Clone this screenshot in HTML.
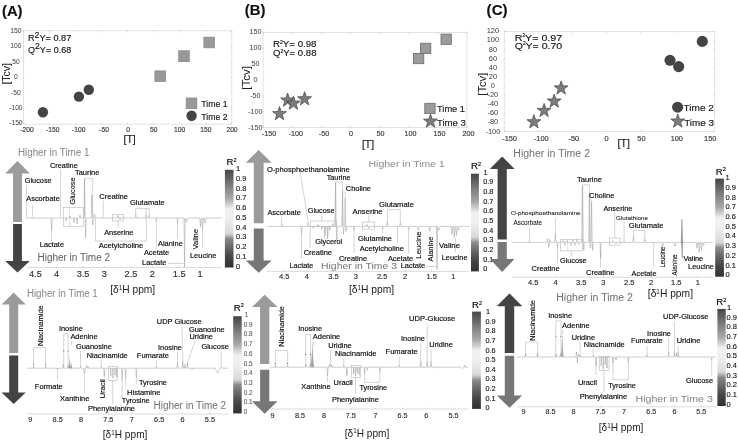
<!DOCTYPE html><html><head><meta charset="utf-8"><title>Figure</title>
<style>html,body{margin:0;padding:0;background:#fff;}svg{display:block;font-family:"Liberation Sans", sans-serif;filter:blur(0.35px);}</style></head><body>
<svg width="738" height="441" viewBox="0 0 738 441">
<defs><linearGradient id="cb" x1="0" y1="0" x2="0" y2="1"><stop offset="0" stop-color="#464646"/><stop offset="0.1" stop-color="#686868"/><stop offset="0.19" stop-color="#888"/><stop offset="0.29" stop-color="#a8a8a8"/><stop offset="0.355" stop-color="#d2d2d2"/><stop offset="0.40" stop-color="#f0f0f0"/><stop offset="0.49" stop-color="#f0f0f0"/><stop offset="0.58" stop-color="#e4e4e4"/><stop offset="0.65" stop-color="#d8d8d8"/><stop offset="0.68" stop-color="#b0b0b0"/><stop offset="0.705" stop-color="#8a8a8a"/><stop offset="0.785" stop-color="#6a6a6a"/><stop offset="0.88" stop-color="#484848"/><stop offset="1" stop-color="#303030"/></linearGradient></defs>
<rect width="738" height="441" fill="#fff"/>
<rect x="23.4" y="30.8" width="208.4" height="93.3" fill="none" stroke="#d8d8d8" stroke-width="0.7"/>
<text x="27.0" y="132.2" font-size="6.7" fill="#3a3a3a" stroke="#3a3a3a" stroke-width="0.16" font-weight="normal" text-anchor="middle">-200</text>
<line x1="23.0" y1="124.1" x2="23.0" y2="122.6" stroke="#bbb" stroke-width="0.5"/>
<line x1="23.0" y1="30.8" x2="23.0" y2="32.3" stroke="#bbb" stroke-width="0.5"/>
<text x="52.7" y="132.2" font-size="6.7" fill="#3a3a3a" stroke="#3a3a3a" stroke-width="0.16" font-weight="normal" text-anchor="middle">-150</text>
<line x1="49.1" y1="124.1" x2="49.1" y2="122.6" stroke="#bbb" stroke-width="0.5"/>
<line x1="49.1" y1="30.8" x2="49.1" y2="32.3" stroke="#bbb" stroke-width="0.5"/>
<text x="78.7" y="132.2" font-size="6.7" fill="#3a3a3a" stroke="#3a3a3a" stroke-width="0.16" font-weight="normal" text-anchor="middle">-100</text>
<line x1="75.2" y1="124.1" x2="75.2" y2="122.6" stroke="#bbb" stroke-width="0.5"/>
<line x1="75.2" y1="30.8" x2="75.2" y2="32.3" stroke="#bbb" stroke-width="0.5"/>
<text x="104.1" y="132.2" font-size="6.7" fill="#3a3a3a" stroke="#3a3a3a" stroke-width="0.16" font-weight="normal" text-anchor="middle">-50</text>
<line x1="101.4" y1="124.1" x2="101.4" y2="122.6" stroke="#bbb" stroke-width="0.5"/>
<line x1="101.4" y1="30.8" x2="101.4" y2="32.3" stroke="#bbb" stroke-width="0.5"/>
<text x="128.0" y="132.2" font-size="6.7" fill="#3a3a3a" stroke="#3a3a3a" stroke-width="0.16" font-weight="normal" text-anchor="middle">0</text>
<line x1="127.5" y1="124.1" x2="127.5" y2="122.6" stroke="#bbb" stroke-width="0.5"/>
<line x1="127.5" y1="30.8" x2="127.5" y2="32.3" stroke="#bbb" stroke-width="0.5"/>
<text x="153.7" y="132.2" font-size="6.7" fill="#3a3a3a" stroke="#3a3a3a" stroke-width="0.16" font-weight="normal" text-anchor="middle">50</text>
<line x1="153.6" y1="124.1" x2="153.6" y2="122.6" stroke="#bbb" stroke-width="0.5"/>
<line x1="153.6" y1="30.8" x2="153.6" y2="32.3" stroke="#bbb" stroke-width="0.5"/>
<text x="179.6" y="132.2" font-size="6.7" fill="#3a3a3a" stroke="#3a3a3a" stroke-width="0.16" font-weight="normal" text-anchor="middle">100</text>
<line x1="179.8" y1="124.1" x2="179.8" y2="122.6" stroke="#bbb" stroke-width="0.5"/>
<line x1="179.8" y1="30.8" x2="179.8" y2="32.3" stroke="#bbb" stroke-width="0.5"/>
<text x="205.8" y="132.2" font-size="6.7" fill="#3a3a3a" stroke="#3a3a3a" stroke-width="0.16" font-weight="normal" text-anchor="middle">150</text>
<line x1="205.9" y1="124.1" x2="205.9" y2="122.6" stroke="#bbb" stroke-width="0.5"/>
<line x1="205.9" y1="30.8" x2="205.9" y2="32.3" stroke="#bbb" stroke-width="0.5"/>
<text x="232.0" y="132.2" font-size="6.7" fill="#3a3a3a" stroke="#3a3a3a" stroke-width="0.16" font-weight="normal" text-anchor="middle">200</text>
<line x1="232.0" y1="124.1" x2="232.0" y2="122.6" stroke="#bbb" stroke-width="0.5"/>
<line x1="232.0" y1="30.8" x2="232.0" y2="32.3" stroke="#bbb" stroke-width="0.5"/>
<text x="15.9" y="125.3" font-size="6.7" fill="#3a3a3a" text-anchor="middle">-150</text>
<line x1="23.4" y1="123.6" x2="24.9" y2="123.6" stroke="#bbb" stroke-width="0.5"/>
<line x1="231.8" y1="123.6" x2="230.3" y2="123.6" stroke="#bbb" stroke-width="0.5"/>
<text x="15.9" y="109.9" font-size="6.7" fill="#3a3a3a" text-anchor="middle">-100</text>
<line x1="23.4" y1="108.2" x2="24.9" y2="108.2" stroke="#bbb" stroke-width="0.5"/>
<line x1="231.8" y1="108.2" x2="230.3" y2="108.2" stroke="#bbb" stroke-width="0.5"/>
<text x="15.9" y="94.5" font-size="6.7" fill="#3a3a3a" text-anchor="middle">-50</text>
<line x1="23.4" y1="92.8" x2="24.9" y2="92.8" stroke="#bbb" stroke-width="0.5"/>
<line x1="231.8" y1="92.8" x2="230.3" y2="92.8" stroke="#bbb" stroke-width="0.5"/>
<text x="15.9" y="79.1" font-size="6.7" fill="#3a3a3a" text-anchor="middle">0</text>
<line x1="23.4" y1="77.4" x2="24.9" y2="77.4" stroke="#bbb" stroke-width="0.5"/>
<line x1="231.8" y1="77.4" x2="230.3" y2="77.4" stroke="#bbb" stroke-width="0.5"/>
<text x="15.9" y="63.7" font-size="6.7" fill="#3a3a3a" text-anchor="middle">50</text>
<line x1="23.4" y1="62.0" x2="24.9" y2="62.0" stroke="#bbb" stroke-width="0.5"/>
<line x1="231.8" y1="62.0" x2="230.3" y2="62.0" stroke="#bbb" stroke-width="0.5"/>
<text x="15.9" y="48.3" font-size="6.7" fill="#3a3a3a" text-anchor="middle">100</text>
<line x1="23.4" y1="46.6" x2="24.9" y2="46.6" stroke="#bbb" stroke-width="0.5"/>
<line x1="231.8" y1="46.6" x2="230.3" y2="46.6" stroke="#bbb" stroke-width="0.5"/>
<text x="15.9" y="32.9" font-size="6.7" fill="#3a3a3a" text-anchor="middle">150</text>
<line x1="23.4" y1="31.2" x2="24.9" y2="31.2" stroke="#bbb" stroke-width="0.5"/>
<line x1="231.8" y1="31.2" x2="230.3" y2="31.2" stroke="#bbb" stroke-width="0.5"/>
<text transform="translate(6.3,73.8) rotate(-90)" x="0" y="4.0" font-size="11" fill="#222" stroke="#222" stroke-width="0.04" text-anchor="middle" textLength="21.6" lengthAdjust="spacingAndGlyphs">[Tcv]</text>
<text x="129.6" y="142.6" font-size="10.5" fill="#222" stroke="#222" stroke-width="0.16" font-weight="normal" text-anchor="middle">[T]</text>
<text x="2.0" y="16.0" font-size="14.6" fill="#111" stroke="#111" stroke-width="0.16" font-weight="bold" textLength="20.5" lengthAdjust="spacingAndGlyphs">(A)</text>
<text x="28.0" y="41.2" font-size="9.4" fill="#151515" stroke="#151515" stroke-width="0.15" textLength="43.3" lengthAdjust="spacingAndGlyphs">R<tspan font-size="9" dy="-3.4">2</tspan><tspan dy="3.4">Y= 0.87</tspan></text>
<text x="28.0" y="52.5" font-size="9.4" fill="#151515" stroke="#151515" stroke-width="0.15" textLength="43.3" lengthAdjust="spacingAndGlyphs">Q<tspan font-size="9" dy="-3.4">2</tspan><tspan dy="3.4">Y= 0.68</tspan></text>
<rect x="154.9" y="70.9" width="10.6" height="10.6" fill="#999" stroke="#8a8a8a" stroke-width="0.8"/>
<rect x="178.7" y="50.8" width="10.6" height="10.6" fill="#999" stroke="#8a8a8a" stroke-width="0.8"/>
<rect x="203.9" y="37.2" width="10.6" height="10.6" fill="#999" stroke="#8a8a8a" stroke-width="0.8"/>
<circle cx="42.9" cy="112.2" r="5.2" fill="#444"/>
<circle cx="78.9" cy="96.6" r="5.2" fill="#444"/>
<circle cx="88.8" cy="89.8" r="5.2" fill="#444"/>
<rect x="186.2" y="98.0" width="10.6" height="10.6" fill="#999" stroke="#8a8a8a" stroke-width="0.8"/>
<text x="201.3" y="107.1" font-size="9.6" fill="#1a1a1a" stroke="#1a1a1a" stroke-width="0.16" font-weight="normal" textLength="26.3" lengthAdjust="spacingAndGlyphs">Time 1</text>
<circle cx="191.6" cy="115.7" r="5.2" fill="#444"/>
<text x="201.3" y="119.6" font-size="9.6" fill="#1a1a1a" stroke="#1a1a1a" stroke-width="0.16" font-weight="normal" textLength="26.3" lengthAdjust="spacingAndGlyphs">Time 2</text>
<rect x="263.1" y="32.6" width="203.8" height="94.8" fill="none" stroke="#d8d8d8" stroke-width="0.7"/>
<text x="269.0" y="136.1" font-size="7.2" fill="#3a3a3a" stroke="#3a3a3a" stroke-width="0.16" font-weight="normal" text-anchor="middle">-150</text>
<line x1="263.2" y1="127.4" x2="263.2" y2="125.9" stroke="#bbb" stroke-width="0.5"/>
<line x1="263.2" y1="32.6" x2="263.2" y2="34.1" stroke="#bbb" stroke-width="0.5"/>
<text x="295.9" y="136.1" font-size="7.2" fill="#3a3a3a" stroke="#3a3a3a" stroke-width="0.16" font-weight="normal" text-anchor="middle">-100</text>
<line x1="292.4" y1="127.4" x2="292.4" y2="125.9" stroke="#bbb" stroke-width="0.5"/>
<line x1="292.4" y1="32.6" x2="292.4" y2="34.1" stroke="#bbb" stroke-width="0.5"/>
<text x="324.0" y="136.1" font-size="7.2" fill="#3a3a3a" stroke="#3a3a3a" stroke-width="0.16" font-weight="normal" text-anchor="middle">-50</text>
<line x1="321.6" y1="127.4" x2="321.6" y2="125.9" stroke="#bbb" stroke-width="0.5"/>
<line x1="321.6" y1="32.6" x2="321.6" y2="34.1" stroke="#bbb" stroke-width="0.5"/>
<text x="351.0" y="136.1" font-size="7.2" fill="#3a3a3a" stroke="#3a3a3a" stroke-width="0.16" font-weight="normal" text-anchor="middle">0</text>
<line x1="350.7" y1="127.4" x2="350.7" y2="125.9" stroke="#bbb" stroke-width="0.5"/>
<line x1="350.7" y1="32.6" x2="350.7" y2="34.1" stroke="#bbb" stroke-width="0.5"/>
<text x="380.6" y="136.1" font-size="7.2" fill="#3a3a3a" stroke="#3a3a3a" stroke-width="0.16" font-weight="normal" text-anchor="middle">50</text>
<line x1="379.8" y1="127.4" x2="379.8" y2="125.9" stroke="#bbb" stroke-width="0.5"/>
<line x1="379.8" y1="32.6" x2="379.8" y2="34.1" stroke="#bbb" stroke-width="0.5"/>
<text x="410.5" y="136.1" font-size="7.2" fill="#3a3a3a" stroke="#3a3a3a" stroke-width="0.16" font-weight="normal" text-anchor="middle">100</text>
<line x1="409.0" y1="127.4" x2="409.0" y2="125.9" stroke="#bbb" stroke-width="0.5"/>
<line x1="409.0" y1="32.6" x2="409.0" y2="34.1" stroke="#bbb" stroke-width="0.5"/>
<text x="439.5" y="136.1" font-size="7.2" fill="#3a3a3a" stroke="#3a3a3a" stroke-width="0.16" font-weight="normal" text-anchor="middle">150</text>
<line x1="438.1" y1="127.4" x2="438.1" y2="125.9" stroke="#bbb" stroke-width="0.5"/>
<line x1="438.1" y1="32.6" x2="438.1" y2="34.1" stroke="#bbb" stroke-width="0.5"/>
<text x="468.4" y="136.1" font-size="7.2" fill="#3a3a3a" stroke="#3a3a3a" stroke-width="0.16" font-weight="normal" text-anchor="middle">200</text>
<line x1="467.3" y1="127.4" x2="467.3" y2="125.9" stroke="#bbb" stroke-width="0.5"/>
<line x1="467.3" y1="32.6" x2="467.3" y2="34.1" stroke="#bbb" stroke-width="0.5"/>
<text x="255.4" y="129.7" font-size="7.2" fill="#3a3a3a" text-anchor="middle">-150</text>
<line x1="263.1" y1="127.8" x2="264.6" y2="127.8" stroke="#bbb" stroke-width="0.5"/>
<line x1="466.9" y1="127.8" x2="465.4" y2="127.8" stroke="#bbb" stroke-width="0.5"/>
<text x="255.4" y="113.8" font-size="7.2" fill="#3a3a3a" text-anchor="middle">-100</text>
<line x1="263.1" y1="111.9" x2="264.6" y2="111.9" stroke="#bbb" stroke-width="0.5"/>
<line x1="466.9" y1="111.9" x2="465.4" y2="111.9" stroke="#bbb" stroke-width="0.5"/>
<text x="255.4" y="97.8" font-size="7.2" fill="#3a3a3a" text-anchor="middle">-50</text>
<line x1="263.1" y1="96.0" x2="264.6" y2="96.0" stroke="#bbb" stroke-width="0.5"/>
<line x1="466.9" y1="96.0" x2="465.4" y2="96.0" stroke="#bbb" stroke-width="0.5"/>
<text x="255.4" y="81.9" font-size="7.2" fill="#3a3a3a" text-anchor="middle">0</text>
<line x1="263.1" y1="80.0" x2="264.6" y2="80.0" stroke="#bbb" stroke-width="0.5"/>
<line x1="466.9" y1="80.0" x2="465.4" y2="80.0" stroke="#bbb" stroke-width="0.5"/>
<text x="255.4" y="65.9" font-size="7.2" fill="#3a3a3a" text-anchor="middle">50</text>
<line x1="263.1" y1="64.0" x2="264.6" y2="64.0" stroke="#bbb" stroke-width="0.5"/>
<line x1="466.9" y1="64.0" x2="465.4" y2="64.0" stroke="#bbb" stroke-width="0.5"/>
<text x="255.4" y="50.0" font-size="7.2" fill="#3a3a3a" text-anchor="middle">100</text>
<line x1="263.1" y1="48.1" x2="264.6" y2="48.1" stroke="#bbb" stroke-width="0.5"/>
<line x1="466.9" y1="48.1" x2="465.4" y2="48.1" stroke="#bbb" stroke-width="0.5"/>
<text x="255.4" y="34.0" font-size="7.2" fill="#3a3a3a" text-anchor="middle">150</text>
<line x1="263.1" y1="32.1" x2="264.6" y2="32.1" stroke="#bbb" stroke-width="0.5"/>
<line x1="466.9" y1="32.1" x2="465.4" y2="32.1" stroke="#bbb" stroke-width="0.5"/>
<text transform="translate(246.0,77.9) rotate(-90)" x="0" y="4.0" font-size="11" fill="#222" stroke="#222" stroke-width="0.04" text-anchor="middle" textLength="23.6" lengthAdjust="spacingAndGlyphs">[Tcv]</text>
<text x="368.0" y="148.3" font-size="10.5" fill="#222" stroke="#222" stroke-width="0.16" font-weight="normal" text-anchor="middle">[T]</text>
<text x="244.8" y="14.9" font-size="14.6" fill="#111" stroke="#111" stroke-width="0.16" font-weight="bold" textLength="20.7" lengthAdjust="spacingAndGlyphs">(B)</text>
<text x="273.0" y="47.1" font-size="9.5" fill="#151515" stroke="#151515" stroke-width="0.15" textLength="43.5" lengthAdjust="spacingAndGlyphs">R<tspan font-size="5" dy="-3.6">2</tspan><tspan dy="3.6">Y= 0.98</tspan></text>
<text x="273.0" y="56.3" font-size="9.5" fill="#151515" stroke="#151515" stroke-width="0.15" textLength="43.5" lengthAdjust="spacingAndGlyphs">Q<tspan font-size="5" dy="-3.6">2</tspan><tspan dy="3.6">Y= 0.88</tspan></text>
<rect x="441.0" y="34.1" width="10.3" height="10.3" fill="#9b9b9b" stroke="#6c6c6c" stroke-width="0.8"/>
<rect x="420.5" y="43.2" width="10.3" height="10.3" fill="#9b9b9b" stroke="#6c6c6c" stroke-width="0.8"/>
<rect x="413.5" y="53.4" width="10.3" height="10.3" fill="#9b9b9b" stroke="#6c6c6c" stroke-width="0.8"/>
<polygon points="279.50,106.60 281.22,111.54 286.44,111.64 282.28,114.80 283.79,119.81 279.50,116.82 275.21,119.81 276.72,114.80 272.56,111.64 277.78,111.54" fill="#7d7d7d" stroke="#444" stroke-width="0.7" stroke-linejoin="miter"/>
<polygon points="287.60,93.00 289.32,97.94 294.54,98.04 290.38,101.20 291.89,106.21 287.60,103.22 283.31,106.21 284.82,101.20 280.66,98.04 285.88,97.94" fill="#7d7d7d" stroke="#444" stroke-width="0.7" stroke-linejoin="miter"/>
<polygon points="293.40,96.10 295.12,101.04 300.34,101.14 296.18,104.30 297.69,109.31 293.40,106.32 289.11,109.31 290.62,104.30 286.46,101.14 291.68,101.04" fill="#7d7d7d" stroke="#444" stroke-width="0.7" stroke-linejoin="miter"/>
<polygon points="304.60,91.70 306.32,96.64 311.54,96.74 307.38,99.90 308.89,104.91 304.60,101.92 300.31,104.91 301.82,99.90 297.66,96.74 302.88,96.64" fill="#7d7d7d" stroke="#444" stroke-width="0.7" stroke-linejoin="miter"/>
<rect x="424.8" y="103.3" width="10.3" height="10.3" fill="#9b9b9b" stroke="#6c6c6c" stroke-width="0.8"/>
<text x="437.0" y="112.2" font-size="9.7" fill="#1a1a1a" stroke="#1a1a1a" stroke-width="0.16" font-weight="normal" textLength="28.0" lengthAdjust="spacingAndGlyphs">Time 1</text>
<polygon points="430.50,114.10 432.22,119.04 437.44,119.14 433.28,122.30 434.79,127.31 430.50,124.32 426.21,127.31 427.72,122.30 423.56,119.14 428.78,119.04" fill="#7d7d7d" stroke="#444" stroke-width="0.7" stroke-linejoin="miter"/>
<text x="437.0" y="125.6" font-size="9.7" fill="#1a1a1a" stroke="#1a1a1a" stroke-width="0.16" font-weight="normal" textLength="28.9" lengthAdjust="spacingAndGlyphs">Time 3</text>
<rect x="504.2" y="31.6" width="210.5" height="99.8" fill="none" stroke="#d8d8d8" stroke-width="0.7"/>
<text x="509.6" y="141.2" font-size="7.4" fill="#3a3a3a" stroke="#3a3a3a" stroke-width="0.16" font-weight="normal" text-anchor="middle">-150</text>
<line x1="504.5" y1="131.4" x2="504.5" y2="129.9" stroke="#bbb" stroke-width="0.5"/>
<line x1="504.5" y1="31.6" x2="504.5" y2="33.1" stroke="#bbb" stroke-width="0.5"/>
<text x="541.3" y="141.2" font-size="7.4" fill="#3a3a3a" stroke="#3a3a3a" stroke-width="0.16" font-weight="normal" text-anchor="middle">-100</text>
<line x1="538.5" y1="131.4" x2="538.5" y2="129.9" stroke="#bbb" stroke-width="0.5"/>
<line x1="538.5" y1="31.6" x2="538.5" y2="33.1" stroke="#bbb" stroke-width="0.5"/>
<text x="573.9" y="141.2" font-size="7.4" fill="#3a3a3a" stroke="#3a3a3a" stroke-width="0.16" font-weight="normal" text-anchor="middle">-50</text>
<line x1="572.5" y1="131.4" x2="572.5" y2="129.9" stroke="#bbb" stroke-width="0.5"/>
<line x1="572.5" y1="31.6" x2="572.5" y2="33.1" stroke="#bbb" stroke-width="0.5"/>
<text x="606.5" y="141.2" font-size="7.4" fill="#3a3a3a" stroke="#3a3a3a" stroke-width="0.16" font-weight="normal" text-anchor="middle">0</text>
<line x1="606.5" y1="131.4" x2="606.5" y2="129.9" stroke="#bbb" stroke-width="0.5"/>
<line x1="606.5" y1="31.6" x2="606.5" y2="33.1" stroke="#bbb" stroke-width="0.5"/>
<text x="641.4" y="141.2" font-size="7.4" fill="#3a3a3a" stroke="#3a3a3a" stroke-width="0.16" font-weight="normal" text-anchor="middle">50</text>
<line x1="640.5" y1="131.4" x2="640.5" y2="129.9" stroke="#bbb" stroke-width="0.5"/>
<line x1="640.5" y1="31.6" x2="640.5" y2="33.1" stroke="#bbb" stroke-width="0.5"/>
<text x="676.8" y="141.2" font-size="7.4" fill="#3a3a3a" stroke="#3a3a3a" stroke-width="0.16" font-weight="normal" text-anchor="middle">100</text>
<line x1="674.5" y1="131.4" x2="674.5" y2="129.9" stroke="#bbb" stroke-width="0.5"/>
<line x1="674.5" y1="31.6" x2="674.5" y2="33.1" stroke="#bbb" stroke-width="0.5"/>
<text x="710.2" y="141.2" font-size="7.4" fill="#3a3a3a" stroke="#3a3a3a" stroke-width="0.16" font-weight="normal" text-anchor="middle">150</text>
<line x1="708.5" y1="131.4" x2="708.5" y2="129.9" stroke="#bbb" stroke-width="0.5"/>
<line x1="708.5" y1="31.6" x2="708.5" y2="33.1" stroke="#bbb" stroke-width="0.5"/>
<text x="492.9" y="133.6" font-size="7.4" fill="#3a3a3a" text-anchor="middle">-100</text>
<line x1="504.2" y1="131.6" x2="505.7" y2="131.6" stroke="#bbb" stroke-width="0.5"/>
<line x1="714.7" y1="131.6" x2="713.2" y2="131.6" stroke="#bbb" stroke-width="0.5"/>
<text x="492.9" y="124.4" font-size="7.4" fill="#3a3a3a" text-anchor="middle">-80</text>
<line x1="504.2" y1="122.5" x2="505.7" y2="122.5" stroke="#bbb" stroke-width="0.5"/>
<line x1="714.7" y1="122.5" x2="713.2" y2="122.5" stroke="#bbb" stroke-width="0.5"/>
<text x="492.9" y="115.3" font-size="7.4" fill="#3a3a3a" text-anchor="middle">-60</text>
<line x1="504.2" y1="113.4" x2="505.7" y2="113.4" stroke="#bbb" stroke-width="0.5"/>
<line x1="714.7" y1="113.4" x2="713.2" y2="113.4" stroke="#bbb" stroke-width="0.5"/>
<text x="492.9" y="106.2" font-size="7.4" fill="#3a3a3a" text-anchor="middle">-40</text>
<line x1="504.2" y1="104.2" x2="505.7" y2="104.2" stroke="#bbb" stroke-width="0.5"/>
<line x1="714.7" y1="104.2" x2="713.2" y2="104.2" stroke="#bbb" stroke-width="0.5"/>
<text x="492.9" y="97.1" font-size="7.4" fill="#3a3a3a" text-anchor="middle">-20</text>
<line x1="504.2" y1="95.1" x2="505.7" y2="95.1" stroke="#bbb" stroke-width="0.5"/>
<line x1="714.7" y1="95.1" x2="713.2" y2="95.1" stroke="#bbb" stroke-width="0.5"/>
<text x="492.9" y="88.0" font-size="7.4" fill="#3a3a3a" text-anchor="middle">0</text>
<line x1="504.2" y1="86.0" x2="505.7" y2="86.0" stroke="#bbb" stroke-width="0.5"/>
<line x1="714.7" y1="86.0" x2="713.2" y2="86.0" stroke="#bbb" stroke-width="0.5"/>
<text x="492.9" y="78.8" font-size="7.4" fill="#3a3a3a" text-anchor="middle">20</text>
<line x1="504.2" y1="76.9" x2="505.7" y2="76.9" stroke="#bbb" stroke-width="0.5"/>
<line x1="714.7" y1="76.9" x2="713.2" y2="76.9" stroke="#bbb" stroke-width="0.5"/>
<text x="492.9" y="69.7" font-size="7.4" fill="#3a3a3a" text-anchor="middle">40</text>
<line x1="504.2" y1="67.8" x2="505.7" y2="67.8" stroke="#bbb" stroke-width="0.5"/>
<line x1="714.7" y1="67.8" x2="713.2" y2="67.8" stroke="#bbb" stroke-width="0.5"/>
<text x="492.9" y="60.6" font-size="7.4" fill="#3a3a3a" text-anchor="middle">60</text>
<line x1="504.2" y1="58.6" x2="505.7" y2="58.6" stroke="#bbb" stroke-width="0.5"/>
<line x1="714.7" y1="58.6" x2="713.2" y2="58.6" stroke="#bbb" stroke-width="0.5"/>
<text x="492.9" y="51.5" font-size="7.4" fill="#3a3a3a" text-anchor="middle">80</text>
<line x1="504.2" y1="49.5" x2="505.7" y2="49.5" stroke="#bbb" stroke-width="0.5"/>
<line x1="714.7" y1="49.5" x2="713.2" y2="49.5" stroke="#bbb" stroke-width="0.5"/>
<text x="492.9" y="42.4" font-size="7.4" fill="#3a3a3a" text-anchor="middle">100</text>
<line x1="504.2" y1="40.4" x2="505.7" y2="40.4" stroke="#bbb" stroke-width="0.5"/>
<line x1="714.7" y1="40.4" x2="713.2" y2="40.4" stroke="#bbb" stroke-width="0.5"/>
<text x="492.9" y="33.2" font-size="7.4" fill="#3a3a3a" text-anchor="middle">120</text>
<line x1="504.2" y1="31.3" x2="505.7" y2="31.3" stroke="#bbb" stroke-width="0.5"/>
<line x1="714.7" y1="31.3" x2="713.2" y2="31.3" stroke="#bbb" stroke-width="0.5"/>
<text transform="translate(481.6,84.2) rotate(-90)" x="0" y="4.0" font-size="11" fill="#222" stroke="#222" stroke-width="0.04" text-anchor="middle" textLength="23.0" lengthAdjust="spacingAndGlyphs">[Tcv]</text>
<text x="623.7" y="147.2" font-size="10.5" fill="#222" stroke="#222" stroke-width="0.16" font-weight="normal" text-anchor="middle">[T]</text>
<text x="486.6" y="14.9" font-size="14.6" fill="#111" stroke="#111" stroke-width="0.16" font-weight="bold" textLength="21.0" lengthAdjust="spacingAndGlyphs">(C)</text>
<text x="514.7" y="41.1" font-size="9.9" fill="#151515" stroke="#151515" stroke-width="0.15" textLength="47.5" lengthAdjust="spacingAndGlyphs">R<tspan font-size="4.5" dy="-3.8">2</tspan><tspan dy="3.8">Y= 0.97</tspan></text>
<text x="514.7" y="49.1" font-size="9.9" fill="#151515" stroke="#151515" stroke-width="0.15" textLength="47.5" lengthAdjust="spacingAndGlyphs">Q<tspan font-size="4.5" dy="-3.8">2</tspan><tspan dy="3.8">Y= 0.70</tspan></text>
<circle cx="702.3" cy="41.4" r="5.55" fill="#444"/>
<circle cx="670.0" cy="60.3" r="5.55" fill="#444"/>
<circle cx="678.7" cy="66.6" r="5.55" fill="#444"/>
<polygon points="561.10,80.90 562.82,85.84 568.04,85.94 563.88,89.10 565.39,94.11 561.10,91.12 556.81,94.11 558.32,89.10 554.16,85.94 559.38,85.84" fill="#7d7d7d" stroke="#444" stroke-width="0.7" stroke-linejoin="miter"/>
<polygon points="554.20,94.00 555.92,98.94 561.14,99.04 556.98,102.20 558.49,107.21 554.20,104.22 549.91,107.21 551.42,102.20 547.26,99.04 552.48,98.94" fill="#7d7d7d" stroke="#444" stroke-width="0.7" stroke-linejoin="miter"/>
<polygon points="544.10,103.40 545.82,108.34 551.04,108.44 546.88,111.60 548.39,116.61 544.10,113.62 539.81,116.61 541.32,111.60 537.16,108.44 542.38,108.34" fill="#7d7d7d" stroke="#444" stroke-width="0.7" stroke-linejoin="miter"/>
<polygon points="533.90,114.70 535.62,119.64 540.84,119.74 536.68,122.90 538.19,127.91 533.90,124.92 529.61,127.91 531.12,122.90 526.96,119.74 532.18,119.64" fill="#7d7d7d" stroke="#444" stroke-width="0.7" stroke-linejoin="miter"/>
<circle cx="677.6" cy="107.2" r="5.55" fill="#444"/>
<text x="683.6" y="110.8" font-size="9.6" fill="#1a1a1a" stroke="#1a1a1a" stroke-width="0.16" font-weight="normal" textLength="30.3" lengthAdjust="spacingAndGlyphs">Time 2</text>
<polygon points="677.80,114.00 679.52,118.94 684.74,119.04 680.58,122.20 682.09,127.21 677.80,124.22 673.51,127.21 675.02,122.20 670.86,119.04 676.08,118.94" fill="#7d7d7d" stroke="#444" stroke-width="0.7" stroke-linejoin="miter"/>
<text x="684.2" y="125.7" font-size="9.6" fill="#1a1a1a" stroke="#1a1a1a" stroke-width="0.16" font-weight="normal" textLength="29.7" lengthAdjust="spacingAndGlyphs">Time 3</text>
<polygon points="17.5,160.9 29.8,173.6 21.9,173.6 21.9,222.0 13.1,222.0 13.1,173.6 5.2,173.6" fill="#9b9b9b"/>
<polygon points="13.1,224.1 21.9,224.1 21.9,261.0 29.8,261.0 17.5,272.5 5.2,261.0 13.1,261.0" fill="#444"/>
<text x="17.9" y="156.2" font-size="10" fill="#8c8c8c" stroke="#8c8c8c" stroke-width="0.04" font-weight="normal" textLength="71.6" lengthAdjust="spacingAndGlyphs">Higher in Time 1</text>
<text x="37.5" y="260.5" font-size="10" fill="#666" stroke="#666" stroke-width="0.04" font-weight="normal" textLength="72.5" lengthAdjust="spacingAndGlyphs">Higher in Time 2</text>
<path d="M26.0,218.0 L51.0,218.0 L51.6,231.0 L52.2,218.0 L65.5,218.0 L66.0,221.0 L66.5,218.0 L69.5,218.0 L70.0,216.0 L70.5,218.0 L73.5,218.0 L74.0,223.0 L74.5,218.0 L76.5,218.0 L77.0,224.0 L77.5,218.0 L79.5,218.0 L80.0,215.0 L80.5,218.0 L84.0,218.0 L84.6,179.0 L85.2,218.0 L85.1,218.0 L85.6,238.0 L86.1,218.0 L91.2,218.0 L91.8,195.0 L92.4,218.0 L92.3,218.0 L92.8,225.0 L93.3,218.0 L93.8,218.0 L94.5,214.0 L95.2,218.0 L117.5,218.0 L118.0,215.0 L118.5,218.0 L119.5,218.0 L120.0,220.0 L120.5,218.0 L135.2,218.0 L135.8,215.0 L136.4,218.0 L145.5,218.0 L146.0,215.5 L146.5,218.0 L148.5,218.0 L149.0,215.5 L149.5,218.0 L155.8,218.0 L156.3,221.0 L156.8,218.0 L177.0,218.0 L177.5,223.0 L178.0,218.0 L184.0,218.0 L184.6,267.0 L185.2,218.0 L185.0,218.0 L186.5,222.0 L188.0,218.0 L199.8,218.0 L200.5,227.0 L201.2,218.0 L201.9,218.0 L202.6,229.0 L203.3,218.0 L204.2,218.0 L205.0,223.0 L205.8,218.0 L221.7,218.0" fill="none" stroke="#929292" stroke-width="0.45" stroke-linejoin="round"/>
<line x1="26.5" y1="185.0" x2="26.5" y2="217.0" stroke="#ababab" stroke-width="0.5"/>
<line x1="32.4" y1="205.0" x2="32.4" y2="217.0" stroke="#ababab" stroke-width="0.5"/>
<line x1="51.6" y1="231.0" x2="51.6" y2="241.0" stroke="#ababab" stroke-width="0.5"/>
<line x1="60.5" y1="169.8" x2="60.5" y2="217.0" stroke="#ababab" stroke-width="0.5"/>
<rect x="63.2" y="207.4" width="20.1" height="18.9" fill="none" stroke="#ababab" stroke-width="0.5"/>
<line x1="69.5" y1="207.4" x2="69.5" y2="226.3" stroke="#bbb" stroke-width="0.4"/>
<path d="M84.4,217 V178.6 H92.7 V217" fill="none" stroke="#ababab" stroke-width="0.5" stroke-linejoin="round"/>
<path d="M95.5,218 V241 H146.3 V218" fill="none" stroke="#ababab" stroke-width="0.5" stroke-linejoin="round"/>
<line x1="103.3" y1="200.7" x2="103.3" y2="217.5" stroke="#ababab" stroke-width="0.5"/>
<rect x="112.4" y="214.5" width="11.3" height="6.5" fill="none" stroke="#ababab" stroke-width="0.5"/>
<line x1="118.0" y1="221.0" x2="118.0" y2="228.0" stroke="#ababab" stroke-width="0.5"/>
<path d="M135.7,216 V208.6 H146.1 V216" fill="none" stroke="#ababab" stroke-width="0.5" stroke-linejoin="round"/>
<path d="M146.1,208.6 H149.3 V216" fill="none" stroke="#ababab" stroke-width="0.5" stroke-linejoin="round"/>
<line x1="177.5" y1="223.0" x2="177.5" y2="238.5" stroke="#ababab" stroke-width="0.5"/>
<line x1="156.3" y1="221.0" x2="156.3" y2="249.0" stroke="#ababab" stroke-width="0.5"/>
<line x1="168.0" y1="263.5" x2="183.5" y2="263.5" stroke="#ababab" stroke-width="0.5"/>
<line x1="202.6" y1="229.0" x2="202.6" y2="248.0" stroke="#ababab" stroke-width="0.5"/>
<text x="24.8" y="182.7" font-size="7.6" fill="#0a0a0a" stroke="#0a0a0a" stroke-width="0.16" font-weight="normal" textLength="26.8" lengthAdjust="spacingAndGlyphs">Glucose</text>
<text x="50.0" y="167.5" font-size="7.6" fill="#0a0a0a" stroke="#0a0a0a" stroke-width="0.16" font-weight="normal" textLength="27.8" lengthAdjust="spacingAndGlyphs">Creatine</text>
<text x="75.0" y="175.4" font-size="7.6" fill="#0a0a0a" stroke="#0a0a0a" stroke-width="0.16" font-weight="normal" textLength="24.3" lengthAdjust="spacingAndGlyphs">Taurine</text>
<text x="26.2" y="200.8" font-size="7.6" fill="#0a0a0a" stroke="#0a0a0a" stroke-width="0.16" font-weight="normal" textLength="33.6" lengthAdjust="spacingAndGlyphs">Ascorbate</text>
<text x="99.3" y="199.3" font-size="7.6" fill="#0a0a0a" stroke="#0a0a0a" stroke-width="0.16" font-weight="normal" textLength="28.8" lengthAdjust="spacingAndGlyphs">Creatine</text>
<text x="129.9" y="205.3" font-size="7.6" fill="#0a0a0a" stroke="#0a0a0a" stroke-width="0.16" font-weight="normal" textLength="34.8" lengthAdjust="spacingAndGlyphs">Glutamate</text>
<text x="104.2" y="234.9" font-size="7.6" fill="#0a0a0a" stroke="#0a0a0a" stroke-width="0.16" font-weight="normal" textLength="29.2" lengthAdjust="spacingAndGlyphs">Anserine</text>
<text x="98.7" y="247.9" font-size="7.6" fill="#0a0a0a" stroke="#0a0a0a" stroke-width="0.16" font-weight="normal" textLength="44.6" lengthAdjust="spacingAndGlyphs">Acetylcholine</text>
<text x="39.8" y="247.2" font-size="7.6" fill="#0a0a0a" stroke="#0a0a0a" stroke-width="0.16" font-weight="normal" textLength="24.2" lengthAdjust="spacingAndGlyphs">Lactate</text>
<text x="158.0" y="245.6" font-size="7.6" fill="#0a0a0a" stroke="#0a0a0a" stroke-width="0.16" font-weight="normal" textLength="24.8" lengthAdjust="spacingAndGlyphs">Alanine</text>
<text x="143.9" y="255.1" font-size="7.6" fill="#0a0a0a" stroke="#0a0a0a" stroke-width="0.16" font-weight="normal" textLength="25.3" lengthAdjust="spacingAndGlyphs">Acetate</text>
<text x="142.1" y="265.1" font-size="7.6" fill="#0a0a0a" stroke="#0a0a0a" stroke-width="0.16" font-weight="normal" textLength="24.2" lengthAdjust="spacingAndGlyphs">Lactate</text>
<text x="189.9" y="258.3" font-size="7.6" fill="#0a0a0a" stroke="#0a0a0a" stroke-width="0.16" font-weight="normal" textLength="26.5" lengthAdjust="spacingAndGlyphs">Leucine</text>
<text transform="translate(72.7,191.0) rotate(-90)" x="0" y="2.7" font-size="7.4" fill="#0a0a0a" stroke="#0a0a0a" stroke-width="0.1" text-anchor="middle" textLength="27.0" lengthAdjust="spacingAndGlyphs">Glucose</text>
<text transform="translate(195.7,239.2) rotate(-90)" x="0" y="2.7" font-size="7.4" fill="#0a0a0a" stroke="#0a0a0a" stroke-width="0.1" text-anchor="middle" textLength="20.5" lengthAdjust="spacingAndGlyphs">Valine</text>
<line x1="27.0" y1="267.5" x2="221.7" y2="267.5" stroke="#cfcfcf" stroke-width="0.7"/>
<line x1="35.4" y1="267.5" x2="35.4" y2="266.0" stroke="#bbb" stroke-width="0.5"/>
<text x="35.4" y="276.7" font-size="9.2" fill="#333" stroke="#333" stroke-width="0.16" font-weight="normal" text-anchor="middle">4.5</text>
<line x1="56.6" y1="267.5" x2="56.6" y2="266.0" stroke="#bbb" stroke-width="0.5"/>
<text x="56.6" y="276.7" font-size="9.2" fill="#333" stroke="#333" stroke-width="0.16" font-weight="normal" text-anchor="middle">4</text>
<line x1="83.1" y1="267.5" x2="83.1" y2="266.0" stroke="#bbb" stroke-width="0.5"/>
<text x="83.1" y="276.7" font-size="9.2" fill="#333" stroke="#333" stroke-width="0.16" font-weight="normal" text-anchor="middle">3.5</text>
<line x1="104.4" y1="267.5" x2="104.4" y2="266.0" stroke="#bbb" stroke-width="0.5"/>
<text x="104.4" y="276.7" font-size="9.2" fill="#333" stroke="#333" stroke-width="0.16" font-weight="normal" text-anchor="middle">3</text>
<line x1="131.0" y1="267.5" x2="131.0" y2="266.0" stroke="#bbb" stroke-width="0.5"/>
<text x="131.0" y="276.7" font-size="9.2" fill="#333" stroke="#333" stroke-width="0.16" font-weight="normal" text-anchor="middle">2.5</text>
<line x1="152.4" y1="267.5" x2="152.4" y2="266.0" stroke="#bbb" stroke-width="0.5"/>
<text x="152.4" y="276.7" font-size="9.2" fill="#333" stroke="#333" stroke-width="0.16" font-weight="normal" text-anchor="middle">2</text>
<line x1="179.2" y1="267.5" x2="179.2" y2="266.0" stroke="#bbb" stroke-width="0.5"/>
<text x="179.2" y="276.7" font-size="9.2" fill="#333" stroke="#333" stroke-width="0.16" font-weight="normal" text-anchor="middle">1.5</text>
<line x1="200.1" y1="267.5" x2="200.1" y2="266.0" stroke="#bbb" stroke-width="0.5"/>
<text x="200.1" y="276.7" font-size="9.2" fill="#333" stroke="#333" stroke-width="0.16" font-weight="normal" text-anchor="middle">1</text>
<text x="110.2" y="293.4" font-size="10.3" fill="#222" textLength="45.0" lengthAdjust="spacingAndGlyphs">[δ<tspan font-size="6.4" dy="-3.4">1</tspan><tspan dy="3.4">H ppm]</tspan></text>
<rect x="224.9" y="169.8" width="8.6" height="97.7" fill="url(#cb)"/>
<text x="226.6" y="165.1" font-size="9.6" fill="#111" stroke="#111" stroke-width="0.2">R<tspan font-size="5.5" dy="-3.6">2</tspan></text>
<text x="236.0" y="171.0" font-size="7.5" fill="#1c1c1c" stroke="#1c1c1c" stroke-width="0.15">1</text>
<text x="236.0" y="180.8" font-size="7.5" fill="#1c1c1c" stroke="#1c1c1c" stroke-width="0.15">0.9</text>
<text x="236.0" y="190.5" font-size="7.5" fill="#1c1c1c" stroke="#1c1c1c" stroke-width="0.15">0.8</text>
<text x="236.0" y="200.2" font-size="7.5" fill="#1c1c1c" stroke="#1c1c1c" stroke-width="0.15">0.7</text>
<text x="236.0" y="210.0" font-size="7.5" fill="#1c1c1c" stroke="#1c1c1c" stroke-width="0.15">0.6</text>
<text x="236.0" y="219.8" font-size="7.5" fill="#1c1c1c" stroke="#1c1c1c" stroke-width="0.15">0.5</text>
<text x="236.0" y="229.5" font-size="7.5" fill="#1c1c1c" stroke="#1c1c1c" stroke-width="0.15">0.4</text>
<text x="236.0" y="239.2" font-size="7.5" fill="#1c1c1c" stroke="#1c1c1c" stroke-width="0.15">0.3</text>
<text x="236.0" y="249.0" font-size="7.5" fill="#1c1c1c" stroke="#1c1c1c" stroke-width="0.15">0.2</text>
<text x="236.0" y="258.8" font-size="7.5" fill="#1c1c1c" stroke="#1c1c1c" stroke-width="0.15">0.1</text>
<text x="236.0" y="268.5" font-size="7.5" fill="#1c1c1c" stroke="#1c1c1c" stroke-width="0.15">0</text>
<polygon points="258.7,150.0 271.7,162.7 263.6,162.7 263.6,223.3 253.8,223.3 253.8,162.7 245.7,162.7" fill="#9b9b9b"/>
<polygon points="253.8,228.6 263.6,228.6 263.6,260.4 271.7,260.4 258.7,272.8 245.7,260.4 253.8,260.4" fill="#777"/>
<text x="368.5" y="166.8" font-size="8.8" fill="#929292" stroke="#929292" stroke-width="0.04" font-weight="normal" textLength="76.4" lengthAdjust="spacingAndGlyphs">Higher in Time 1</text>
<text x="321.0" y="268.9" font-size="8.8" fill="#7a7a7a" stroke="#7a7a7a" stroke-width="0.04" font-weight="normal" textLength="76.1" lengthAdjust="spacingAndGlyphs">Higher in Time 3</text>
<path d="M267.0,226.4 L281.2,226.4 L281.7,224.4 L282.2,226.4 L300.9,226.4 L301.5,233.4 L302.1,226.4 L307.6,226.4 L308.1,222.4 L308.6,226.4 L312.5,226.4 L313.0,228.4 L313.5,226.4 L317.5,226.4 L318.0,224.4 L318.5,226.4 L321.5,226.4 L322.0,229.4 L322.5,226.4 L324.4,226.4 L325.0,235.4 L325.6,226.4 L326.9,226.4 L327.5,237.4 L328.1,226.4 L329.5,226.4 L330.0,230.4 L330.5,226.4 L332.5,226.4 L333.0,223.4 L333.5,226.4 L334.9,226.4 L335.6,182.4 L336.3,226.4 L336.3,226.4 L336.8,240.4 L337.3,226.4 L341.8,226.4 L342.5,190.4 L343.2,226.4 L343.1,226.4 L343.6,234.4 L344.1,226.4 L344.6,226.4 L345.2,198.4 L345.8,226.4 L345.7,226.4 L346.2,231.4 L346.7,226.4 L353.5,226.4 L354.0,230.4 L354.5,226.4 L366.5,226.4 L367.0,224.4 L367.5,226.4 L368.5,226.4 L369.0,228.4 L369.5,226.4 L382.1,226.4 L382.6,229.4 L383.1,226.4 L386.7,226.4 L387.4,221.4 L388.1,226.4 L399.6,226.4 L400.3,222.4 L401.0,226.4 L408.1,226.4 L408.6,229.4 L409.1,226.4 L417.6,226.4 L418.4,230.4 L419.2,226.4 L429.1,226.4 L429.9,231.4 L430.7,226.4 L436.4,226.4 L437.0,269.4 L437.6,226.4 L437.3,226.4 L438.8,230.4 L440.3,226.4 L451.3,226.4 L452.0,234.4 L452.7,226.4 L453.6,226.4 L454.3,237.4 L455.0,226.4 L455.7,226.4 L456.4,235.4 L457.1,226.4 L457.8,226.4 L458.5,230.4 L459.2,226.4 L470.0,226.4" fill="none" stroke="#929292" stroke-width="0.45" stroke-linejoin="round"/>
<line x1="281.7" y1="217.0" x2="281.7" y2="225.0" stroke="#ababab" stroke-width="0.5"/>
<line x1="300.1" y1="171.5" x2="308.1" y2="221.0" stroke="#ababab" stroke-width="0.5"/>
<line x1="301.5" y1="233.0" x2="301.5" y2="258.0" stroke="#ababab" stroke-width="0.5"/>
<rect x="310.4" y="221.0" width="26.0" height="5.2" fill="none" stroke="#ababab" stroke-width="0.5"/>
<line x1="321.7" y1="214.0" x2="321.7" y2="221.0" stroke="#ababab" stroke-width="0.5"/>
<path d="M324.5,227 V238.3 H327.9 V227" fill="none" stroke="#ababab" stroke-width="0.5" stroke-linejoin="round"/>
<line x1="310.2" y1="227.0" x2="310.2" y2="248.0" stroke="#ababab" stroke-width="0.5"/>
<path d="M335.5,226 V181.8 H342.6 V226" fill="none" stroke="#ababab" stroke-width="0.5" stroke-linejoin="round"/>
<line x1="345.2" y1="192.0" x2="345.2" y2="199.0" stroke="#ababab" stroke-width="0.5"/>
<line x1="354.0" y1="230.0" x2="354.0" y2="253.0" stroke="#ababab" stroke-width="0.5"/>
<rect x="362.7" y="222.0" width="12.0" height="7.1" fill="none" stroke="#ababab" stroke-width="0.5"/>
<line x1="368.8" y1="214.5" x2="368.8" y2="222.0" stroke="#ababab" stroke-width="0.5"/>
<path d="M387.4,222 V209.6 H400.3 V222" fill="none" stroke="#ababab" stroke-width="0.5" stroke-linejoin="round"/>
<line x1="382.6" y1="229.0" x2="382.6" y2="234.0" stroke="#ababab" stroke-width="0.5"/>
<line x1="397.5" y1="227.0" x2="397.5" y2="243.0" stroke="#ababab" stroke-width="0.5"/>
<line x1="408.6" y1="229.0" x2="408.6" y2="254.0" stroke="#ababab" stroke-width="0.5"/>
<line x1="426.0" y1="266.5" x2="436.0" y2="266.5" stroke="#ababab" stroke-width="0.5"/>
<line x1="455.5" y1="238.0" x2="455.5" y2="252.0" stroke="#ababab" stroke-width="0.5"/>
<text x="266.9" y="171.6" font-size="7.6" fill="#0a0a0a" stroke="#0a0a0a" stroke-width="0.16" font-weight="normal" textLength="82.8" lengthAdjust="spacingAndGlyphs">O-phosphoethanolamine</text>
<text x="326.7" y="180.1" font-size="7.6" fill="#0a0a0a" stroke="#0a0a0a" stroke-width="0.16" font-weight="normal" textLength="23.8" lengthAdjust="spacingAndGlyphs">Taurine</text>
<text x="345.8" y="190.7" font-size="7.6" fill="#0a0a0a" stroke="#0a0a0a" stroke-width="0.16" font-weight="normal" textLength="25.2" lengthAdjust="spacingAndGlyphs">Choline</text>
<text x="267.4" y="215.3" font-size="7.6" fill="#0a0a0a" stroke="#0a0a0a" stroke-width="0.16" font-weight="normal" textLength="33.6" lengthAdjust="spacingAndGlyphs">Ascorbate</text>
<text x="307.7" y="213.1" font-size="7.6" fill="#0a0a0a" stroke="#0a0a0a" stroke-width="0.16" font-weight="normal" textLength="26.9" lengthAdjust="spacingAndGlyphs">Glucose</text>
<text x="352.5" y="213.5" font-size="7.6" fill="#0a0a0a" stroke="#0a0a0a" stroke-width="0.16" font-weight="normal" textLength="30.1" lengthAdjust="spacingAndGlyphs">Anserine</text>
<text x="379.1" y="206.6" font-size="7.6" fill="#0a0a0a" stroke="#0a0a0a" stroke-width="0.16" font-weight="normal" textLength="34.8" lengthAdjust="spacingAndGlyphs">Glutamate</text>
<text x="315.2" y="244.0" font-size="7.6" fill="#0a0a0a" stroke="#0a0a0a" stroke-width="0.16" font-weight="normal" textLength="27.0" lengthAdjust="spacingAndGlyphs">Glycerol</text>
<text x="303.7" y="254.6" font-size="7.6" fill="#0a0a0a" stroke="#0a0a0a" stroke-width="0.16" font-weight="normal" textLength="28.3" lengthAdjust="spacingAndGlyphs">Creatine</text>
<text x="339.0" y="260.8" font-size="7.6" fill="#0a0a0a" stroke="#0a0a0a" stroke-width="0.16" font-weight="normal" textLength="28.0" lengthAdjust="spacingAndGlyphs">Creatine</text>
<text x="289.5" y="267.9" font-size="7.6" fill="#0a0a0a" stroke="#0a0a0a" stroke-width="0.16" font-weight="normal" textLength="23.9" lengthAdjust="spacingAndGlyphs">Lactate</text>
<text x="357.9" y="240.7" font-size="7.6" fill="#0a0a0a" stroke="#0a0a0a" stroke-width="0.16" font-weight="normal" textLength="34.1" lengthAdjust="spacingAndGlyphs">Glutamine</text>
<text x="359.7" y="250.5" font-size="7.6" fill="#0a0a0a" stroke="#0a0a0a" stroke-width="0.16" font-weight="normal" textLength="44.3" lengthAdjust="spacingAndGlyphs">Acetylcholine</text>
<text x="387.9" y="260.8" font-size="7.6" fill="#0a0a0a" stroke="#0a0a0a" stroke-width="0.16" font-weight="normal" textLength="25.2" lengthAdjust="spacingAndGlyphs">Acetate</text>
<text x="400.7" y="268.1" font-size="7.6" fill="#0a0a0a" stroke="#0a0a0a" stroke-width="0.16" font-weight="normal" textLength="24.4" lengthAdjust="spacingAndGlyphs">Lactate</text>
<text x="439.0" y="248.1" font-size="7.6" fill="#0a0a0a" stroke="#0a0a0a" stroke-width="0.16" font-weight="normal" textLength="21.0" lengthAdjust="spacingAndGlyphs">Valine</text>
<text x="441.7" y="259.9" font-size="7.6" fill="#0a0a0a" stroke="#0a0a0a" stroke-width="0.16" font-weight="normal" textLength="25.8" lengthAdjust="spacingAndGlyphs">Leucine</text>
<text transform="translate(418.4,245.0) rotate(-90)" x="0" y="2.7" font-size="7.4" fill="#0a0a0a" stroke="#0a0a0a" stroke-width="0.1" text-anchor="middle" textLength="27.4" lengthAdjust="spacingAndGlyphs">Leucine</text>
<text transform="translate(430.2,249.0) rotate(-90)" x="0" y="2.7" font-size="7.4" fill="#0a0a0a" stroke="#0a0a0a" stroke-width="0.1" text-anchor="middle" textLength="25.0" lengthAdjust="spacingAndGlyphs">Alanine</text>
<line x1="267.0" y1="271.4" x2="469.0" y2="271.4" stroke="#cfcfcf" stroke-width="0.7"/>
<line x1="284.2" y1="271.4" x2="284.2" y2="269.9" stroke="#bbb" stroke-width="0.5"/>
<text x="284.2" y="279.4" font-size="7.5" fill="#333" stroke="#333" stroke-width="0.16" font-weight="normal" text-anchor="middle">4.5</text>
<line x1="306.9" y1="271.4" x2="306.9" y2="269.9" stroke="#bbb" stroke-width="0.5"/>
<text x="306.9" y="279.4" font-size="7.5" fill="#333" stroke="#333" stroke-width="0.16" font-weight="normal" text-anchor="middle">4</text>
<line x1="333.4" y1="271.4" x2="333.4" y2="269.9" stroke="#bbb" stroke-width="0.5"/>
<text x="333.4" y="279.4" font-size="7.5" fill="#333" stroke="#333" stroke-width="0.16" font-weight="normal" text-anchor="middle">3.5</text>
<line x1="355.8" y1="271.4" x2="355.8" y2="269.9" stroke="#bbb" stroke-width="0.5"/>
<text x="355.8" y="279.4" font-size="7.5" fill="#333" stroke="#333" stroke-width="0.16" font-weight="normal" text-anchor="middle">3</text>
<line x1="382.1" y1="271.4" x2="382.1" y2="269.9" stroke="#bbb" stroke-width="0.5"/>
<text x="382.1" y="279.4" font-size="7.5" fill="#333" stroke="#333" stroke-width="0.16" font-weight="normal" text-anchor="middle">2.5</text>
<line x1="405.1" y1="271.4" x2="405.1" y2="269.9" stroke="#bbb" stroke-width="0.5"/>
<text x="405.1" y="279.4" font-size="7.5" fill="#333" stroke="#333" stroke-width="0.16" font-weight="normal" text-anchor="middle">2</text>
<line x1="431.6" y1="271.4" x2="431.6" y2="269.9" stroke="#bbb" stroke-width="0.5"/>
<text x="431.6" y="279.4" font-size="7.5" fill="#333" stroke="#333" stroke-width="0.16" font-weight="normal" text-anchor="middle">1.5</text>
<line x1="453.4" y1="271.4" x2="453.4" y2="269.9" stroke="#bbb" stroke-width="0.5"/>
<text x="453.4" y="279.4" font-size="7.5" fill="#333" stroke="#333" stroke-width="0.16" font-weight="normal" text-anchor="middle">1</text>
<text x="348.9" y="293.4" font-size="10.3" fill="#222" textLength="45.3" lengthAdjust="spacingAndGlyphs">[δ<tspan font-size="6.4" dy="-3.4">1</tspan><tspan dy="3.4">H ppm]</tspan></text>
<rect x="471.0" y="173.7" width="7.9" height="97.7" fill="url(#cb)"/>
<text x="471.0" y="169.2" font-size="9.6" fill="#111" stroke="#111" stroke-width="0.2">R<tspan font-size="5.5" dy="-3.6">2</tspan></text>
<text x="483.6" y="174.6" font-size="7.3" fill="#1c1c1c" stroke="#1c1c1c" stroke-width="0.15">1</text>
<text x="483.2" y="184.3" font-size="7.3" fill="#1c1c1c" stroke="#1c1c1c" stroke-width="0.15">0.9</text>
<text x="483.2" y="193.9" font-size="7.3" fill="#1c1c1c" stroke="#1c1c1c" stroke-width="0.15">0.8</text>
<text x="483.2" y="203.6" font-size="7.3" fill="#1c1c1c" stroke="#1c1c1c" stroke-width="0.15">0.7</text>
<text x="483.2" y="213.2" font-size="7.3" fill="#1c1c1c" stroke="#1c1c1c" stroke-width="0.15">0.6</text>
<text x="483.2" y="222.9" font-size="7.3" fill="#1c1c1c" stroke="#1c1c1c" stroke-width="0.15">0.5</text>
<text x="483.2" y="232.5" font-size="7.3" fill="#1c1c1c" stroke="#1c1c1c" stroke-width="0.15">0.4</text>
<text x="483.2" y="242.2" font-size="7.3" fill="#1c1c1c" stroke="#1c1c1c" stroke-width="0.15">0.3</text>
<text x="483.2" y="251.8" font-size="7.3" fill="#1c1c1c" stroke="#1c1c1c" stroke-width="0.15">0.2</text>
<text x="483.2" y="261.5" font-size="7.3" fill="#1c1c1c" stroke="#1c1c1c" stroke-width="0.15">0.1</text>
<text x="483.2" y="271.1" font-size="7.3" fill="#1c1c1c" stroke="#1c1c1c" stroke-width="0.15">0</text>
<polygon points="502.2,156.5 514.6,168.9 506.8,168.9 506.8,239.4 497.6,239.4 497.6,168.9 489.8,168.9" fill="#444"/>
<polygon points="497.6,242.0 506.8,242.0 506.8,258.9 514.4,258.9 502.2,272.0 490.0,258.9 497.6,258.9" fill="#777"/>
<text x="513.3" y="157.1" font-size="10" fill="#777" stroke="#777" stroke-width="0.04" font-weight="normal" textLength="76.7" lengthAdjust="spacingAndGlyphs">Higher in Time 2</text>
<path d="M512.0,242.4 L529.0,242.4 L529.5,240.9 L530.0,242.4 L547.1,242.4 L547.6,238.4 L548.1,242.4 L548.3,242.4 L548.8,247.4 L549.3,242.4 L549.5,242.4 L550.0,239.4 L550.5,242.4 L554.7,242.4 L555.3,233.4 L555.9,242.4 L556.9,242.4 L557.5,248.4 L558.1,242.4 L562.5,242.4 L563.0,240.4 L563.5,242.4 L564.5,242.4 L565.0,245.4 L565.5,242.4 L566.5,242.4 L567.0,240.4 L567.5,242.4 L570.5,242.4 L571.0,245.4 L571.5,242.4 L572.5,242.4 L573.0,239.4 L573.5,242.4 L574.5,242.4 L575.0,245.4 L575.5,242.4 L576.5,242.4 L577.0,239.4 L577.5,242.4 L578.5,242.4 L579.0,244.4 L579.5,242.4 L581.9,242.4 L582.6,186.4 L583.3,242.4 L583.3,242.4 L583.8,250.4 L584.3,242.4 L588.7,242.4 L589.4,192.4 L590.1,242.4 L589.9,242.4 L590.4,248.4 L590.9,242.4 L591.0,242.4 L591.6,202.4 L592.2,242.4 L592.1,242.4 L592.6,250.4 L593.1,242.4 L600.1,242.4 L600.6,258.4 L601.1,242.4 L612.5,242.4 L613.0,240.9 L613.5,242.4 L615.5,242.4 L616.0,243.9 L616.5,242.4 L623.6,242.4 L624.1,240.4 L624.6,242.4 L632.5,242.4 L633.5,236.4 L634.5,242.4 L644.0,242.4 L644.8,238.9 L645.6,242.4 L653.2,242.4 L653.7,244.4 L654.2,242.4 L661.9,242.4 L662.7,246.9 L663.5,242.4 L674.1,242.4 L674.9,246.4 L675.7,242.4 L696.3,242.4 L697.0,248.4 L697.7,242.4 L698.5,242.4 L699.2,252.4 L699.9,242.4 L700.8,242.4 L701.5,250.4 L702.2,242.4 L702.8,242.4 L703.5,245.4 L704.2,242.4 L713.0,242.4" fill="none" stroke="#929292" stroke-width="0.45" stroke-linejoin="round"/>
<path d="M681.2,243 L681.9,219.3 L682.7,243 L682.2,258 L681.6,243 Z" fill="#8a8a8a" stroke="#8a8a8a" stroke-width="0.5"/>
<line x1="529.5" y1="228.0" x2="529.5" y2="241.0" stroke="#ababab" stroke-width="0.5"/>
<line x1="555.5" y1="218.0" x2="555.5" y2="233.0" stroke="#ababab" stroke-width="0.5"/>
<line x1="557.5" y1="249.0" x2="557.5" y2="263.0" stroke="#ababab" stroke-width="0.5"/>
<rect x="560.5" y="239.4" width="21.7" height="11.5" fill="none" stroke="#ababab" stroke-width="0.5"/>
<line x1="571.4" y1="251.0" x2="571.4" y2="256.5" stroke="#ababab" stroke-width="0.5"/>
<line x1="567.5" y1="239.4" x2="567.5" y2="250.9" stroke="#bbb" stroke-width="0.4"/>
<path d="M582.2,242 V184.8 H589.7 V242" fill="none" stroke="#ababab" stroke-width="0.5" stroke-linejoin="round"/>
<line x1="591.4" y1="199.0" x2="591.4" y2="203.0" stroke="#ababab" stroke-width="0.5"/>
<line x1="600.6" y1="251.0" x2="600.6" y2="268.0" stroke="#ababab" stroke-width="0.5"/>
<rect x="609.4" y="238.0" width="10.7" height="7.1" fill="none" stroke="#ababab" stroke-width="0.5"/>
<line x1="614.7" y1="212.5" x2="614.7" y2="238.0" stroke="#ababab" stroke-width="0.5"/>
<line x1="624.1" y1="221.0" x2="624.1" y2="240.0" stroke="#ababab" stroke-width="0.5"/>
<path d="M633.5,237 V230.4 H644.8 V239" fill="none" stroke="#ababab" stroke-width="0.5" stroke-linejoin="round"/>
<line x1="653.7" y1="245.0" x2="653.7" y2="268.0" stroke="#ababab" stroke-width="0.5"/>
<text x="576.9" y="182.3" font-size="7.8" fill="#0a0a0a" stroke="#0a0a0a" stroke-width="0.16" font-weight="normal" textLength="25.1" lengthAdjust="spacingAndGlyphs">Taurine</text>
<text x="589.1" y="197.7" font-size="7.6" fill="#0a0a0a" stroke="#0a0a0a" stroke-width="0.16" font-weight="normal" textLength="25.2" lengthAdjust="spacingAndGlyphs">Choline</text>
<text x="511.0" y="214.9" font-size="6.2" fill="#0a0a0a" stroke="#0a0a0a" stroke-width="0.04" font-weight="normal" textLength="69.5" lengthAdjust="spacingAndGlyphs">O-phosphoethanolamine</text>
<text x="513.6" y="224.6" font-size="6.4" fill="#0a0a0a" stroke="#0a0a0a" stroke-width="0.04" font-weight="normal" textLength="28.3" lengthAdjust="spacingAndGlyphs">Ascorbate</text>
<text x="603.4" y="210.7" font-size="7.6" fill="#0a0a0a" stroke="#0a0a0a" stroke-width="0.16" font-weight="normal" textLength="29.0" lengthAdjust="spacingAndGlyphs">Anserine</text>
<text x="616.0" y="219.6" font-size="6" fill="#0a0a0a" stroke="#0a0a0a" stroke-width="0.04" font-weight="normal" textLength="32.0" lengthAdjust="spacingAndGlyphs">Glutathione</text>
<text x="628.8" y="228.2" font-size="8" fill="#0a0a0a" stroke="#0a0a0a" stroke-width="0.16" font-weight="normal" textLength="34.6" lengthAdjust="spacingAndGlyphs">Glutamate</text>
<text x="560.0" y="263.3" font-size="7.6" fill="#0a0a0a" stroke="#0a0a0a" stroke-width="0.16" font-weight="normal" textLength="26.6" lengthAdjust="spacingAndGlyphs">Glucose</text>
<text x="531.6" y="271.3" font-size="7.6" fill="#0a0a0a" stroke="#0a0a0a" stroke-width="0.16" font-weight="normal" textLength="28.0" lengthAdjust="spacingAndGlyphs">Creatine</text>
<text x="586.1" y="275.2" font-size="7.6" fill="#0a0a0a" stroke="#0a0a0a" stroke-width="0.16" font-weight="normal" textLength="28.2" lengthAdjust="spacingAndGlyphs">Creatine</text>
<text x="631.6" y="275.5" font-size="7.4" fill="#0a0a0a" stroke="#0a0a0a" stroke-width="0.16" font-weight="normal" textLength="24.9" lengthAdjust="spacingAndGlyphs">Acetate</text>
<text x="683.4" y="261.4" font-size="7.4" fill="#0a0a0a" stroke="#0a0a0a" stroke-width="0.16" font-weight="normal" textLength="19.8" lengthAdjust="spacingAndGlyphs">Valine</text>
<text x="688.1" y="268.5" font-size="7.4" fill="#0a0a0a" stroke="#0a0a0a" stroke-width="0.16" font-weight="normal" textLength="25.8" lengthAdjust="spacingAndGlyphs">Leucine</text>
<text transform="translate(662.4,257.1) rotate(-90)" x="0" y="2.3" font-size="6.5" fill="#0a0a0a" stroke="#0a0a0a" stroke-width="0.1" text-anchor="middle" textLength="21.0" lengthAdjust="spacingAndGlyphs">Leucine</text>
<text transform="translate(674.8,264.9) rotate(-90)" x="0" y="2.3" font-size="6.5" fill="#0a0a0a" stroke="#0a0a0a" stroke-width="0.1" text-anchor="middle" textLength="21.0" lengthAdjust="spacingAndGlyphs">Alanine</text>
<line x1="512.0" y1="277.3" x2="713.0" y2="277.3" stroke="#cfcfcf" stroke-width="0.7"/>
<line x1="533.1" y1="277.3" x2="533.1" y2="275.8" stroke="#bbb" stroke-width="0.5"/>
<text x="533.1" y="284.7" font-size="7.5" fill="#333" stroke="#333" stroke-width="0.16" font-weight="normal" text-anchor="middle">4.5</text>
<line x1="555.7" y1="277.3" x2="555.7" y2="275.8" stroke="#bbb" stroke-width="0.5"/>
<text x="555.7" y="284.7" font-size="7.5" fill="#333" stroke="#333" stroke-width="0.16" font-weight="normal" text-anchor="middle">4</text>
<line x1="581.2" y1="277.3" x2="581.2" y2="275.8" stroke="#bbb" stroke-width="0.5"/>
<text x="581.2" y="284.7" font-size="7.5" fill="#333" stroke="#333" stroke-width="0.16" font-weight="normal" text-anchor="middle">3.5</text>
<line x1="603.4" y1="277.3" x2="603.4" y2="275.8" stroke="#bbb" stroke-width="0.5"/>
<text x="603.4" y="284.7" font-size="7.5" fill="#333" stroke="#333" stroke-width="0.16" font-weight="normal" text-anchor="middle">3</text>
<line x1="629.2" y1="277.3" x2="629.2" y2="275.8" stroke="#bbb" stroke-width="0.5"/>
<text x="629.2" y="284.7" font-size="7.5" fill="#333" stroke="#333" stroke-width="0.16" font-weight="normal" text-anchor="middle">2.5</text>
<line x1="651.2" y1="277.3" x2="651.2" y2="275.8" stroke="#bbb" stroke-width="0.5"/>
<text x="651.2" y="284.7" font-size="7.5" fill="#333" stroke="#333" stroke-width="0.16" font-weight="normal" text-anchor="middle">2</text>
<line x1="676.2" y1="277.3" x2="676.2" y2="275.8" stroke="#bbb" stroke-width="0.5"/>
<text x="676.2" y="284.7" font-size="7.5" fill="#333" stroke="#333" stroke-width="0.16" font-weight="normal" text-anchor="middle">1.5</text>
<line x1="697.9" y1="277.3" x2="697.9" y2="275.8" stroke="#bbb" stroke-width="0.5"/>
<text x="697.9" y="284.7" font-size="7.5" fill="#333" stroke="#333" stroke-width="0.16" font-weight="normal" text-anchor="middle">1</text>
<text x="647.8" y="297.0" font-size="10.3" fill="#222" textLength="45.2" lengthAdjust="spacingAndGlyphs">[δ<tspan font-size="6.4" dy="-3.4">1</tspan><tspan dy="3.4">H ppm]</tspan></text>
<rect x="715.2" y="178.6" width="8.7" height="98.1" fill="url(#cb)"/>
<text x="715.8" y="174.9" font-size="9.6" fill="#111" stroke="#111" stroke-width="0.2">R<tspan font-size="5.5" dy="-3.6">2</tspan></text>
<text x="725.6" y="180.0" font-size="7.5" fill="#1c1c1c" stroke="#1c1c1c" stroke-width="0.15">1</text>
<text x="725.4" y="189.7" font-size="7.5" fill="#1c1c1c" stroke="#1c1c1c" stroke-width="0.15">0.9</text>
<text x="725.4" y="199.5" font-size="7.5" fill="#1c1c1c" stroke="#1c1c1c" stroke-width="0.15">0.8</text>
<text x="725.4" y="209.2" font-size="7.5" fill="#1c1c1c" stroke="#1c1c1c" stroke-width="0.15">0.7</text>
<text x="725.4" y="218.9" font-size="7.5" fill="#1c1c1c" stroke="#1c1c1c" stroke-width="0.15">0.6</text>
<text x="725.4" y="228.7" font-size="7.5" fill="#1c1c1c" stroke="#1c1c1c" stroke-width="0.15">0.5</text>
<text x="725.4" y="238.4" font-size="7.5" fill="#1c1c1c" stroke="#1c1c1c" stroke-width="0.15">0.4</text>
<text x="725.4" y="248.1" font-size="7.5" fill="#1c1c1c" stroke="#1c1c1c" stroke-width="0.15">0.3</text>
<text x="725.4" y="257.8" font-size="7.5" fill="#1c1c1c" stroke="#1c1c1c" stroke-width="0.15">0.2</text>
<text x="725.4" y="267.6" font-size="7.5" fill="#1c1c1c" stroke="#1c1c1c" stroke-width="0.15">0.1</text>
<text x="725.4" y="277.3" font-size="7.5" fill="#1c1c1c" stroke="#1c1c1c" stroke-width="0.15">0</text>
<polygon points="13.7,292.4 25.8,304.5 18.2,304.5 18.2,353.1 9.2,353.1 9.2,304.5 1.6,304.5" fill="#9b9b9b"/>
<polygon points="9.2,355.4 18.2,355.4 18.2,392.4 25.8,392.4 13.7,404.0 1.6,392.4 9.2,392.4" fill="#444"/>
<text x="26.9" y="297.3" font-size="10" fill="#8c8c8c" stroke="#8c8c8c" stroke-width="0.04" font-weight="normal" textLength="70.9" lengthAdjust="spacingAndGlyphs">Higher in Time 1</text>
<text x="153.6" y="408.6" font-size="10" fill="#777" stroke="#777" stroke-width="0.04" font-weight="normal" textLength="72.5" lengthAdjust="spacingAndGlyphs">Higher in Time 2</text>
<path d="M27.0,368.2 L33.1,368.2 L33.6,366.2 L34.1,368.2 L45.1,368.2 L45.6,366.2 L46.1,368.2 L57.0,368.2 L57.5,370.2 L58.0,368.2 L62.7,368.2 L63.3,364.2 L63.9,368.2 L67.7,368.2 L68.3,365.2 L68.9,368.2 L80.0,368.2 L80.5,366.2 L81.0,368.2 L83.8,368.2 L84.5,374.2 L85.2,368.2 L85.9,368.2 L86.5,365.2 L87.1,368.2 L87.5,368.2 L88.0,366.2 L88.5,368.2 L100.8,368.2 L101.3,366.7 L101.8,368.2 L103.7,368.2 L104.3,376.2 L104.9,368.2 L110.5,368.2 L110.8,376.2 L111.0,368.2 L112.7,368.2 L112.9,378.2 L113.2,368.2 L114.8,368.2 L115.0,375.2 L115.2,368.2 L116.5,368.2 L116.7,377.2 L117.0,368.2 L121.5,368.2 L122.1,380.2 L122.7,368.2 L125.1,368.2 L125.7,378.2 L126.3,368.2 L135.8,368.2 L136.4,377.2 L137.0,368.2 L155.8,368.2 L156.3,366.7 L156.8,368.2 L176.8,368.2 L177.5,362.2 L178.2,368.2 L182.2,368.2 L182.8,361.2 L183.5,368.2 L184.4,368.2 L185.0,364.2 L185.6,368.2 L186.8,368.2 L187.4,363.2 L188.0,368.2 L191.5,368.2 L192.0,369.7 L192.5,368.2 L215.0,368.2 L217.5,373.2 L220.0,368.2 L220.7,368.2 L221.2,367.2 L221.7,368.2 L228.0,368.2" fill="none" stroke="#929292" stroke-width="0.45" stroke-linejoin="round"/>
<path d="M33.6,367.5 V347.8 H45.6 V367.5" fill="none" stroke="#ababab" stroke-width="0.5" stroke-linejoin="round"/>
<path d="M63.7,367.5 V333.6 H68.1 V367.5" fill="none" stroke="#ababab" stroke-width="0.5" stroke-linejoin="round"/>
<path d="M68.5,368.2 Q69.4,364.3 69.8,357.2 Q70.2,364.3 71.1,368.2 Z" fill="#a6a6a6"/>
<path d="M70.4,368.2 Q71.0,366.1 71.3,362.2 Q71.6,366.1 72.2,368.2 Z" fill="#a6a6a6"/>
<circle cx="33.6" cy="364.5" r="0.55" fill="#666"/>
<circle cx="45.6" cy="364.5" r="0.55" fill="#666"/>
<circle cx="63.7" cy="351.0" r="0.55" fill="#666"/>
<circle cx="68.1" cy="351.0" r="0.55" fill="#666"/>
<line x1="57.5" y1="371.0" x2="57.5" y2="380.0" stroke="#ababab" stroke-width="0.5"/>
<line x1="71.6" y1="341.0" x2="71.6" y2="345.0" stroke="#ababab" stroke-width="0.5"/>
<line x1="80.5" y1="351.0" x2="80.5" y2="367.0" stroke="#ababab" stroke-width="0.5"/>
<line x1="84.5" y1="375.0" x2="84.5" y2="393.0" stroke="#ababab" stroke-width="0.5"/>
<line x1="101.3" y1="360.0" x2="101.3" y2="367.0" stroke="#ababab" stroke-width="0.5"/>
<line x1="104.3" y1="372.0" x2="104.3" y2="378.0" stroke="#ababab" stroke-width="0.5"/>
<rect x="108.2" y="366.3" width="9.4" height="14.1" fill="none" stroke="#ababab" stroke-width="0.5"/>
<line x1="112.7" y1="380.4" x2="112.7" y2="404.0" stroke="#ababab" stroke-width="0.5"/>
<line x1="122.1" y1="380.0" x2="122.1" y2="397.4" stroke="#ababab" stroke-width="0.5"/>
<line x1="125.7" y1="378.0" x2="125.7" y2="386.8" stroke="#ababab" stroke-width="0.5"/>
<line x1="136.4" y1="377.0" x2="136.4" y2="384.0" stroke="#ababab" stroke-width="0.5"/>
<line x1="156.3" y1="360.0" x2="156.3" y2="367.0" stroke="#ababab" stroke-width="0.5"/>
<line x1="177.5" y1="352.0" x2="177.5" y2="362.0" stroke="#ababab" stroke-width="0.5"/>
<line x1="181.9" y1="325.5" x2="182.9" y2="361.0" stroke="#ababab" stroke-width="0.5"/>
<line x1="195.2" y1="340.5" x2="187.4" y2="363.0" stroke="#ababab" stroke-width="0.5"/>
<line x1="221.2" y1="352.0" x2="221.2" y2="367.0" stroke="#ababab" stroke-width="0.5"/>
<text x="58.9" y="330.7" font-size="7.6" fill="#0a0a0a" stroke="#0a0a0a" stroke-width="0.16" font-weight="normal" textLength="23.9" lengthAdjust="spacingAndGlyphs">Inosine</text>
<text x="70.4" y="338.5" font-size="7.6" fill="#0a0a0a" stroke="#0a0a0a" stroke-width="0.16" font-weight="normal" textLength="27.2" lengthAdjust="spacingAndGlyphs">Adenine</text>
<text x="76.0" y="348.7" font-size="7.6" fill="#0a0a0a" stroke="#0a0a0a" stroke-width="0.16" font-weight="normal" textLength="35.8" lengthAdjust="spacingAndGlyphs">Guanosine</text>
<text x="86.7" y="358.1" font-size="7.6" fill="#0a0a0a" stroke="#0a0a0a" stroke-width="0.16" font-weight="normal" textLength="41.0" lengthAdjust="spacingAndGlyphs">Niacinamide</text>
<text x="156.8" y="324.0" font-size="7.6" fill="#0a0a0a" stroke="#0a0a0a" stroke-width="0.16" font-weight="normal" textLength="44.9" lengthAdjust="spacingAndGlyphs">UDP Glucose</text>
<text x="189.0" y="332.0" font-size="7.6" fill="#0a0a0a" stroke="#0a0a0a" stroke-width="0.16" font-weight="normal" textLength="35.7" lengthAdjust="spacingAndGlyphs">Guanosine</text>
<text x="189.5" y="339.2" font-size="7.6" fill="#0a0a0a" stroke="#0a0a0a" stroke-width="0.16" font-weight="normal" textLength="23.4" lengthAdjust="spacingAndGlyphs">Uridine</text>
<text x="158.0" y="350.2" font-size="7.6" fill="#0a0a0a" stroke="#0a0a0a" stroke-width="0.16" font-weight="normal" textLength="23.9" lengthAdjust="spacingAndGlyphs">Inosine</text>
<text x="201.4" y="349.3" font-size="7.6" fill="#0a0a0a" stroke="#0a0a0a" stroke-width="0.16" font-weight="normal" textLength="27.4" lengthAdjust="spacingAndGlyphs">Glucose</text>
<text x="136.8" y="358.1" font-size="7.6" fill="#0a0a0a" stroke="#0a0a0a" stroke-width="0.16" font-weight="normal" textLength="32.2" lengthAdjust="spacingAndGlyphs">Fumarate</text>
<text x="34.8" y="388.6" font-size="7.6" fill="#0a0a0a" stroke="#0a0a0a" stroke-width="0.16" font-weight="normal" textLength="28.0" lengthAdjust="spacingAndGlyphs">Formate</text>
<text x="60.1" y="400.5" font-size="7.6" fill="#0a0a0a" stroke="#0a0a0a" stroke-width="0.16" font-weight="normal" textLength="29.2" lengthAdjust="spacingAndGlyphs">Xanthine</text>
<text x="87.9" y="410.7" font-size="7.6" fill="#0a0a0a" stroke="#0a0a0a" stroke-width="0.16" font-weight="normal" textLength="47.1" lengthAdjust="spacingAndGlyphs">Phenylalanine</text>
<text x="138.9" y="384.8" font-size="7.6" fill="#0a0a0a" stroke="#0a0a0a" stroke-width="0.16" font-weight="normal" textLength="28.0" lengthAdjust="spacingAndGlyphs">Tyrosine</text>
<text x="127.1" y="395.2" font-size="7.6" fill="#0a0a0a" stroke="#0a0a0a" stroke-width="0.16" font-weight="normal" textLength="33.2" lengthAdjust="spacingAndGlyphs">Histamine</text>
<text x="121.8" y="403.3" font-size="7.6" fill="#0a0a0a" stroke="#0a0a0a" stroke-width="0.16" font-weight="normal" textLength="27.9" lengthAdjust="spacingAndGlyphs">Tyrosine</text>
<text transform="translate(40.3,325.7) rotate(-90)" x="0" y="2.8" font-size="7.9" fill="#0a0a0a" stroke="#0a0a0a" stroke-width="0.1" text-anchor="middle" textLength="40.7" lengthAdjust="spacingAndGlyphs">Niacinamide</text>
<text transform="translate(102.6,388.9) rotate(-90)" x="0" y="2.7" font-size="7.4" fill="#0a0a0a" stroke="#0a0a0a" stroke-width="0.1" text-anchor="middle" textLength="19.4" lengthAdjust="spacingAndGlyphs">Uracil</text>
<line x1="27.0" y1="414.0" x2="228.0" y2="414.0" stroke="#cfcfcf" stroke-width="0.7"/>
<line x1="30.4" y1="414.0" x2="30.4" y2="412.5" stroke="#bbb" stroke-width="0.5"/>
<text x="30.4" y="421.6" font-size="7.3" fill="#333" stroke="#333" stroke-width="0.16" font-weight="normal" text-anchor="middle">9</text>
<line x1="57.7" y1="414.0" x2="57.7" y2="412.5" stroke="#bbb" stroke-width="0.5"/>
<text x="57.7" y="421.6" font-size="7.3" fill="#333" stroke="#333" stroke-width="0.16" font-weight="normal" text-anchor="middle">8.5</text>
<line x1="81.1" y1="414.0" x2="81.1" y2="412.5" stroke="#bbb" stroke-width="0.5"/>
<text x="81.1" y="421.6" font-size="7.3" fill="#333" stroke="#333" stroke-width="0.16" font-weight="normal" text-anchor="middle">8</text>
<line x1="108.3" y1="414.0" x2="108.3" y2="412.5" stroke="#bbb" stroke-width="0.5"/>
<text x="108.3" y="421.6" font-size="7.3" fill="#333" stroke="#333" stroke-width="0.16" font-weight="normal" text-anchor="middle">7.5</text>
<line x1="131.8" y1="414.0" x2="131.8" y2="412.5" stroke="#bbb" stroke-width="0.5"/>
<text x="131.8" y="421.6" font-size="7.3" fill="#333" stroke="#333" stroke-width="0.16" font-weight="normal" text-anchor="middle">7</text>
<line x1="159.2" y1="414.0" x2="159.2" y2="412.5" stroke="#bbb" stroke-width="0.5"/>
<text x="159.2" y="421.6" font-size="7.3" fill="#333" stroke="#333" stroke-width="0.16" font-weight="normal" text-anchor="middle">6.5</text>
<line x1="182.5" y1="414.0" x2="182.5" y2="412.5" stroke="#bbb" stroke-width="0.5"/>
<text x="182.5" y="421.6" font-size="7.3" fill="#333" stroke="#333" stroke-width="0.16" font-weight="normal" text-anchor="middle">6</text>
<line x1="209.9" y1="414.0" x2="209.9" y2="412.5" stroke="#bbb" stroke-width="0.5"/>
<text x="209.9" y="421.6" font-size="7.3" fill="#333" stroke="#333" stroke-width="0.16" font-weight="normal" text-anchor="middle">5.5</text>
<text x="102.8" y="438.1" font-size="10.3" fill="#222" textLength="44.6" lengthAdjust="spacingAndGlyphs">[δ<tspan font-size="6.4" dy="-3.4">1</tspan><tspan dy="3.4">H ppm]</tspan></text>
<rect x="233.2" y="316.2" width="8.5" height="97.2" fill="url(#cb)"/>
<text x="233.7" y="311.0" font-size="9.6" fill="#111" stroke="#111" stroke-width="0.2">R<tspan font-size="5.5" dy="-3.6">2</tspan></text>
<text x="244.8" y="317.1" font-size="6.3" fill="#6a6a6a" stroke="#6a6a6a" stroke-width="0.15">1</text>
<text x="243.8" y="326.7" font-size="6.3" fill="#6a6a6a" stroke="#6a6a6a" stroke-width="0.15">0.9</text>
<text x="243.8" y="336.4" font-size="6.3" fill="#6a6a6a" stroke="#6a6a6a" stroke-width="0.15">0.8</text>
<text x="243.8" y="346.1" font-size="6.3" fill="#6a6a6a" stroke="#6a6a6a" stroke-width="0.15">0.7</text>
<text x="243.8" y="355.8" font-size="6.3" fill="#6a6a6a" stroke="#6a6a6a" stroke-width="0.15">0.6</text>
<text x="243.8" y="365.5" font-size="6.3" fill="#6a6a6a" stroke="#6a6a6a" stroke-width="0.15">0.5</text>
<text x="243.8" y="375.1" font-size="6.3" fill="#6a6a6a" stroke="#6a6a6a" stroke-width="0.15">0.4</text>
<text x="243.8" y="384.8" font-size="6.3" fill="#6a6a6a" stroke="#6a6a6a" stroke-width="0.15">0.3</text>
<text x="243.8" y="394.5" font-size="6.3" fill="#6a6a6a" stroke="#6a6a6a" stroke-width="0.15">0.2</text>
<text x="243.8" y="404.2" font-size="6.3" fill="#6a6a6a" stroke="#6a6a6a" stroke-width="0.15">0.1</text>
<text x="243.8" y="413.9" font-size="6.3" fill="#6a6a6a" stroke="#6a6a6a" stroke-width="0.15">0</text>
<polygon points="264.7,294.7 277.5,307.1 269.3,307.1 269.3,364.1 260.1,364.1 260.1,307.1 251.9,307.1" fill="#9b9b9b"/>
<polygon points="260.1,369.8 269.3,369.8 269.3,401.3 277.5,401.3 264.7,413.7 251.9,401.3 260.1,401.3" fill="#777"/>
<path d="M270.0,367.2 L274.8,367.2 L275.3,365.2 L275.8,367.2 L287.2,367.2 L287.7,365.2 L288.2,367.2 L305.3,367.2 L305.9,364.2 L306.5,367.2 L309.8,367.2 L310.4,363.2 L311.0,367.2 L326.9,367.2 L327.5,376.2 L328.1,367.2 L328.9,367.2 L329.5,364.2 L330.1,367.2 L331.0,367.2 L331.5,365.2 L332.0,367.2 L343.3,367.2 L343.8,365.7 L344.3,367.2 L346.2,367.2 L346.8,375.2 L347.4,367.2 L353.4,367.2 L353.6,374.2 L353.9,367.2 L355.2,367.2 L355.5,376.2 L355.8,367.2 L357.1,367.2 L357.4,373.2 L357.6,367.2 L358.9,367.2 L359.2,375.2 L359.4,367.2 L364.1,367.2 L364.7,373.2 L365.3,367.2 L367.0,367.2 L367.5,370.2 L368.0,367.2 L379.2,367.2 L379.8,372.2 L380.4,367.2 L398.7,367.2 L399.2,365.2 L399.7,367.2 L420.2,367.2 L420.8,361.2 L421.4,367.2 L426.6,367.2 L427.2,361.2 L427.8,367.2 L430.4,367.2 L431.0,361.2 L431.6,367.2 L433.5,367.2 L434.0,368.2 L434.5,367.2 L460.5,367.2 L462.0,368.7 L463.5,367.2 L464.1,367.2 L464.7,365.2 L465.3,367.2 L468.0,367.2" fill="none" stroke="#929292" stroke-width="0.45" stroke-linejoin="round"/>
<path d="M275.3,367 V350.5 H287.6 V367" fill="none" stroke="#ababab" stroke-width="0.5" stroke-linejoin="round"/>
<path d="M305.7,367 V334.5 H310.6 V367" fill="none" stroke="#ababab" stroke-width="0.5" stroke-linejoin="round"/>
<path d="M310.7,367.2 Q311.9,357.8 312.4,340.2 Q312.9,357.8 314.1,367.2 Z" fill="#a6a6a6"/>
<path d="M310.4,367.2 Q311.0,363.0 311.2,355.2 Q311.4,363.0 312.0,367.2 Z" fill="#a6a6a6"/>
<circle cx="275.3" cy="363.5" r="0.55" fill="#666"/>
<circle cx="287.6" cy="363.5" r="0.55" fill="#666"/>
<circle cx="305.7" cy="354.4" r="0.55" fill="#666"/>
<circle cx="310.6" cy="354.4" r="0.55" fill="#666"/>
<line x1="313.3" y1="341.7" x2="313.3" y2="346.3" stroke="#ababab" stroke-width="0.5"/>
<line x1="330.5" y1="350.0" x2="330.5" y2="366.0" stroke="#ababab" stroke-width="0.5"/>
<line x1="327.5" y1="377.0" x2="327.5" y2="382.0" stroke="#ababab" stroke-width="0.5"/>
<line x1="343.8" y1="358.0" x2="343.8" y2="366.0" stroke="#ababab" stroke-width="0.5"/>
<line x1="346.8" y1="371.0" x2="346.8" y2="376.5" stroke="#ababab" stroke-width="0.5"/>
<rect x="351.7" y="365.6" width="8.9" height="11.8" fill="none" stroke="#ababab" stroke-width="0.5"/>
<line x1="355.6" y1="377.4" x2="355.6" y2="394.0" stroke="#ababab" stroke-width="0.5"/>
<path d="M364.7,372 V382.4 H379.8 V372" fill="none" stroke="#ababab" stroke-width="0.5" stroke-linejoin="round"/>
<line x1="399.2" y1="356.0" x2="399.2" y2="365.0" stroke="#ababab" stroke-width="0.5"/>
<line x1="420.8" y1="343.0" x2="420.8" y2="361.0" stroke="#ababab" stroke-width="0.5"/>
<line x1="427.2" y1="323.5" x2="427.2" y2="361.0" stroke="#ababab" stroke-width="0.5"/>
<line x1="431.0" y1="349.0" x2="431.0" y2="361.0" stroke="#ababab" stroke-width="0.5"/>
<text x="298.3" y="330.7" font-size="7.6" fill="#0a0a0a" stroke="#0a0a0a" stroke-width="0.16" font-weight="normal" textLength="23.7" lengthAdjust="spacingAndGlyphs">Inosine</text>
<text x="312.8" y="339.0" font-size="7.6" fill="#0a0a0a" stroke="#0a0a0a" stroke-width="0.16" font-weight="normal" textLength="27.4" lengthAdjust="spacingAndGlyphs">Adenine</text>
<text x="328.2" y="347.8" font-size="7.6" fill="#0a0a0a" stroke="#0a0a0a" stroke-width="0.16" font-weight="normal" textLength="23.5" lengthAdjust="spacingAndGlyphs">Uridine</text>
<text x="334.9" y="355.8" font-size="7.6" fill="#0a0a0a" stroke="#0a0a0a" stroke-width="0.16" font-weight="normal" textLength="41.7" lengthAdjust="spacingAndGlyphs">Niacinamide</text>
<text x="409.0" y="321.0" font-size="7.6" fill="#0a0a0a" stroke="#0a0a0a" stroke-width="0.16" font-weight="normal" textLength="46.3" lengthAdjust="spacingAndGlyphs">UDP-Glucose</text>
<text x="401.0" y="341.3" font-size="7.6" fill="#0a0a0a" stroke="#0a0a0a" stroke-width="0.16" font-weight="normal" textLength="23.9" lengthAdjust="spacingAndGlyphs">Inosine</text>
<text x="429.3" y="347.0" font-size="7.6" fill="#0a0a0a" stroke="#0a0a0a" stroke-width="0.16" font-weight="normal" textLength="23.5" lengthAdjust="spacingAndGlyphs">Uridine</text>
<text x="385.6" y="354.2" font-size="7.6" fill="#0a0a0a" stroke="#0a0a0a" stroke-width="0.16" font-weight="normal" textLength="32.2" lengthAdjust="spacingAndGlyphs">Fumarate</text>
<text x="301.3" y="389.0" font-size="7.6" fill="#0a0a0a" stroke="#0a0a0a" stroke-width="0.16" font-weight="normal" textLength="29.2" lengthAdjust="spacingAndGlyphs">Xanthine</text>
<text x="333.5" y="384.5" font-size="7.6" fill="#0a0a0a" stroke="#0a0a0a" stroke-width="0.16" font-weight="normal" textLength="19.1" lengthAdjust="spacingAndGlyphs">Uracil</text>
<text x="331.9" y="401.6" font-size="7.6" fill="#0a0a0a" stroke="#0a0a0a" stroke-width="0.16" font-weight="normal" textLength="47.0" lengthAdjust="spacingAndGlyphs">Phenylalanine</text>
<text x="359.4" y="389.9" font-size="7.6" fill="#0a0a0a" stroke="#0a0a0a" stroke-width="0.16" font-weight="normal" textLength="27.8" lengthAdjust="spacingAndGlyphs">Tyrosine</text>
<text transform="translate(281.3,326.5) rotate(-90)" x="0" y="2.8" font-size="7.9" fill="#0a0a0a" stroke="#0a0a0a" stroke-width="0.1" text-anchor="middle" textLength="40.7" lengthAdjust="spacingAndGlyphs">Niacinamide</text>
<line x1="270.0" y1="409.0" x2="468.0" y2="409.0" stroke="#cfcfcf" stroke-width="0.7"/>
<line x1="272.5" y1="409.0" x2="272.5" y2="407.5" stroke="#bbb" stroke-width="0.5"/>
<text x="272.5" y="417.5" font-size="7.2" fill="#333" stroke="#333" stroke-width="0.16" font-weight="normal" text-anchor="middle">9</text>
<line x1="300.1" y1="409.0" x2="300.1" y2="407.5" stroke="#bbb" stroke-width="0.5"/>
<text x="300.1" y="417.5" font-size="7.2" fill="#333" stroke="#333" stroke-width="0.16" font-weight="normal" text-anchor="middle">8.5</text>
<line x1="324.0" y1="409.0" x2="324.0" y2="407.5" stroke="#bbb" stroke-width="0.5"/>
<text x="324.0" y="417.5" font-size="7.2" fill="#333" stroke="#333" stroke-width="0.16" font-weight="normal" text-anchor="middle">8</text>
<line x1="350.8" y1="409.0" x2="350.8" y2="407.5" stroke="#bbb" stroke-width="0.5"/>
<text x="350.8" y="417.5" font-size="7.2" fill="#333" stroke="#333" stroke-width="0.16" font-weight="normal" text-anchor="middle">7.5</text>
<line x1="375.4" y1="409.0" x2="375.4" y2="407.5" stroke="#bbb" stroke-width="0.5"/>
<text x="375.4" y="417.5" font-size="7.2" fill="#333" stroke="#333" stroke-width="0.16" font-weight="normal" text-anchor="middle">7</text>
<line x1="402.4" y1="409.0" x2="402.4" y2="407.5" stroke="#bbb" stroke-width="0.5"/>
<text x="402.4" y="417.5" font-size="7.2" fill="#333" stroke="#333" stroke-width="0.16" font-weight="normal" text-anchor="middle">6.5</text>
<line x1="426.3" y1="409.0" x2="426.3" y2="407.5" stroke="#bbb" stroke-width="0.5"/>
<text x="426.3" y="417.5" font-size="7.2" fill="#333" stroke="#333" stroke-width="0.16" font-weight="normal" text-anchor="middle">6</text>
<line x1="453.5" y1="409.0" x2="453.5" y2="407.5" stroke="#bbb" stroke-width="0.5"/>
<text x="453.5" y="417.5" font-size="7.2" fill="#333" stroke="#333" stroke-width="0.16" font-weight="normal" text-anchor="middle">5.5</text>
<text x="344.7" y="436.7" font-size="10.3" fill="#222" textLength="44.6" lengthAdjust="spacingAndGlyphs">[δ<tspan font-size="6.4" dy="-3.4">1</tspan><tspan dy="3.4">H ppm]</tspan></text>
<rect x="472.1" y="311.6" width="8.8" height="97.3" fill="url(#cb)"/>
<text x="472.0" y="308.3" font-size="9.6" fill="#111" stroke="#111" stroke-width="0.2">R<tspan font-size="5.5" dy="-3.6">2</tspan></text>
<text x="486.0" y="313.8" font-size="7.3" fill="#1c1c1c" stroke="#1c1c1c" stroke-width="0.15">1</text>
<text x="485.4" y="323.5" font-size="7.3" fill="#1c1c1c" stroke="#1c1c1c" stroke-width="0.15">0.9</text>
<text x="485.4" y="333.1" font-size="7.3" fill="#1c1c1c" stroke="#1c1c1c" stroke-width="0.15">0.8</text>
<text x="485.4" y="342.8" font-size="7.3" fill="#1c1c1c" stroke="#1c1c1c" stroke-width="0.15">0.7</text>
<text x="485.4" y="352.5" font-size="7.3" fill="#1c1c1c" stroke="#1c1c1c" stroke-width="0.15">0.6</text>
<text x="485.4" y="362.1" font-size="7.3" fill="#1c1c1c" stroke="#1c1c1c" stroke-width="0.15">0.5</text>
<text x="485.4" y="371.8" font-size="7.3" fill="#1c1c1c" stroke="#1c1c1c" stroke-width="0.15">0.4</text>
<text x="485.4" y="381.4" font-size="7.3" fill="#1c1c1c" stroke="#1c1c1c" stroke-width="0.15">0.3</text>
<text x="485.4" y="391.1" font-size="7.3" fill="#1c1c1c" stroke="#1c1c1c" stroke-width="0.15">0.2</text>
<text x="485.4" y="400.8" font-size="7.3" fill="#1c1c1c" stroke="#1c1c1c" stroke-width="0.15">0.1</text>
<text x="485.4" y="410.4" font-size="7.3" fill="#1c1c1c" stroke="#1c1c1c" stroke-width="0.15">0</text>
<polygon points="509.5,293.5 522.3,306.2 514.2,306.2 514.2,353.1 504.8,353.1 504.8,306.2 496.7,306.2" fill="#444"/>
<polygon points="504.8,355.7 514.2,355.7 514.2,395.4 522.1,395.4 509.5,407.8 496.9,395.4 504.8,395.4" fill="#777"/>
<text x="556.2" y="300.7" font-size="10" fill="#757575" stroke="#757575" stroke-width="0.04" font-weight="normal" textLength="76.8" lengthAdjust="spacingAndGlyphs">Higher in Time 2</text>
<text x="635.5" y="402.2" font-size="8.8" fill="#878787" stroke="#878787" stroke-width="0.04" font-weight="normal" textLength="77.3" lengthAdjust="spacingAndGlyphs">Higher in Time 3</text>
<path d="M517.0,357.0 L524.9,357.0 L525.4,355.0 L525.9,357.0 L536.8,357.0 L537.3,355.0 L537.8,357.0 L555.4,357.0 L556.0,354.0 L556.6,357.0 L560.0,357.0 L560.6,353.0 L561.2,357.0 L575.9,357.0 L576.4,352.0 L576.9,357.0 L576.9,357.0 L577.4,363.0 L577.9,357.0 L578.1,357.0 L578.6,354.0 L579.1,357.0 L579.7,357.0 L580.2,355.0 L580.7,357.0 L592.8,357.0 L593.3,355.5 L593.8,357.0 L595.5,357.0 L596.1,366.0 L596.7,357.0 L601.0,357.0 L601.2,366.0 L601.5,357.0 L603.0,357.0 L603.2,369.0 L603.5,357.0 L605.0,357.0 L605.2,365.0 L605.5,357.0 L606.8,357.0 L607.0,368.0 L607.2,357.0 L612.4,357.0 L613.0,363.0 L613.6,357.0 L615.5,357.0 L616.0,360.0 L616.5,357.0 L627.7,357.0 L628.3,362.0 L628.9,357.0 L646.6,357.0 L647.1,355.0 L647.6,357.0 L668.0,357.0 L668.6,352.0 L669.2,357.0 L673.8,357.0 L674.4,351.0 L675.0,357.0 L675.8,357.0 L676.4,353.0 L677.0,357.0 L677.6,357.0 L678.2,352.0 L678.8,357.0 L711.1,357.0 L711.7,359.5 L712.3,357.0 L716.0,357.0" fill="none" stroke="#929292" stroke-width="0.45" stroke-linejoin="round"/>
<path d="M525.7,356.5 V342 H537.7 V356.5" fill="none" stroke="#ababab" stroke-width="0.5" stroke-linejoin="round"/>
<path d="M555.8,356.5 V320.9 H561 V356.5" fill="none" stroke="#ababab" stroke-width="0.5" stroke-linejoin="round"/>
<path d="M561.0,356.8 Q561.9,348.1 562.3,331.8 Q562.7,348.1 563.6,356.8 Z" fill="#a6a6a6"/>
<circle cx="525.7" cy="354.2" r="0.55" fill="#666"/>
<circle cx="537.7" cy="354.2" r="0.55" fill="#666"/>
<circle cx="555.8" cy="336.3" r="0.55" fill="#666"/>
<circle cx="561.0" cy="336.3" r="0.55" fill="#666"/>
<line x1="562.6" y1="329.5" x2="562.6" y2="334.0" stroke="#ababab" stroke-width="0.5"/>
<line x1="580.2" y1="342.0" x2="580.2" y2="355.0" stroke="#ababab" stroke-width="0.5"/>
<line x1="593.3" y1="349.0" x2="593.3" y2="356.0" stroke="#ababab" stroke-width="0.5"/>
<line x1="596.1" y1="362.0" x2="596.1" y2="375.0" stroke="#ababab" stroke-width="0.5"/>
<rect x="599.2" y="356.5" width="9.8" height="14.1" fill="none" stroke="#ababab" stroke-width="0.5"/>
<line x1="603.9" y1="370.6" x2="603.9" y2="392.0" stroke="#ababab" stroke-width="0.5"/>
<path d="M613,361 V379.8 H628.3 V361" fill="none" stroke="#ababab" stroke-width="0.5" stroke-linejoin="round"/>
<line x1="647.1" y1="346.0" x2="647.1" y2="355.0" stroke="#ababab" stroke-width="0.5"/>
<line x1="668.6" y1="338.0" x2="668.6" y2="352.0" stroke="#ababab" stroke-width="0.5"/>
<line x1="674.4" y1="321.5" x2="674.4" y2="351.0" stroke="#ababab" stroke-width="0.5"/>
<line x1="678.2" y1="346.0" x2="678.2" y2="352.0" stroke="#ababab" stroke-width="0.5"/>
<line x1="711.7" y1="359.0" x2="711.7" y2="375.5" stroke="#ababab" stroke-width="0.5"/>
<text x="548.2" y="318.1" font-size="7.6" fill="#0a0a0a" stroke="#0a0a0a" stroke-width="0.16" font-weight="normal" textLength="23.9" lengthAdjust="spacingAndGlyphs">Inosine</text>
<text x="562.0" y="328.4" font-size="7.6" fill="#0a0a0a" stroke="#0a0a0a" stroke-width="0.16" font-weight="normal" textLength="27.8" lengthAdjust="spacingAndGlyphs">Adenine</text>
<text x="571.7" y="339.5" font-size="7.6" fill="#0a0a0a" stroke="#0a0a0a" stroke-width="0.16" font-weight="normal" textLength="23.4" lengthAdjust="spacingAndGlyphs">Uridine</text>
<text x="583.8" y="347.1" font-size="7.6" fill="#0a0a0a" stroke="#0a0a0a" stroke-width="0.16" font-weight="normal" textLength="40.9" lengthAdjust="spacingAndGlyphs">Niacinamide</text>
<text x="663.0" y="319.1" font-size="7.6" fill="#0a0a0a" stroke="#0a0a0a" stroke-width="0.16" font-weight="normal" textLength="45.5" lengthAdjust="spacingAndGlyphs">UDP-Glucose</text>
<text x="647.1" y="335.9" font-size="7.6" fill="#0a0a0a" stroke="#0a0a0a" stroke-width="0.16" font-weight="normal" textLength="23.9" lengthAdjust="spacingAndGlyphs">Inosine</text>
<text x="630.9" y="343.4" font-size="7.6" fill="#0a0a0a" stroke="#0a0a0a" stroke-width="0.16" font-weight="normal" textLength="31.7" lengthAdjust="spacingAndGlyphs">Fumarate</text>
<text x="676.7" y="343.0" font-size="7.6" fill="#0a0a0a" stroke="#0a0a0a" stroke-width="0.16" font-weight="normal" textLength="23.7" lengthAdjust="spacingAndGlyphs">Uridine</text>
<text x="577.9" y="384.5" font-size="7.6" fill="#0a0a0a" stroke="#0a0a0a" stroke-width="0.16" font-weight="normal" textLength="19.0" lengthAdjust="spacingAndGlyphs">Uracil</text>
<text x="579.7" y="399.4" font-size="7.6" fill="#0a0a0a" stroke="#0a0a0a" stroke-width="0.16" font-weight="normal" textLength="47.5" lengthAdjust="spacingAndGlyphs">Phenylalanine</text>
<text x="608.3" y="387.5" font-size="7.6" fill="#0a0a0a" stroke="#0a0a0a" stroke-width="0.16" font-weight="normal" textLength="27.6" lengthAdjust="spacingAndGlyphs">Tyrosine</text>
<text x="686.0" y="382.5" font-size="7.6" fill="#0a0a0a" stroke="#0a0a0a" stroke-width="0.16" font-weight="normal" textLength="27.2" lengthAdjust="spacingAndGlyphs">Glucose</text>
<text transform="translate(531.9,320.4) rotate(-90)" x="0" y="2.8" font-size="7.9" fill="#0a0a0a" stroke="#0a0a0a" stroke-width="0.1" text-anchor="middle" textLength="40.7" lengthAdjust="spacingAndGlyphs">Niacinamide</text>
<line x1="517.0" y1="406.8" x2="716.0" y2="406.8" stroke="#cfcfcf" stroke-width="0.7"/>
<line x1="523.6" y1="406.8" x2="523.6" y2="405.3" stroke="#bbb" stroke-width="0.5"/>
<text x="523.6" y="414.4" font-size="7.2" fill="#333" stroke="#333" stroke-width="0.16" font-weight="normal" text-anchor="middle">9</text>
<line x1="550.5" y1="406.8" x2="550.5" y2="405.3" stroke="#bbb" stroke-width="0.5"/>
<text x="550.5" y="414.4" font-size="7.2" fill="#333" stroke="#333" stroke-width="0.16" font-weight="normal" text-anchor="middle">8.5</text>
<line x1="573.5" y1="406.8" x2="573.5" y2="405.3" stroke="#bbb" stroke-width="0.5"/>
<text x="573.5" y="414.4" font-size="7.2" fill="#333" stroke="#333" stroke-width="0.16" font-weight="normal" text-anchor="middle">8</text>
<line x1="600.6" y1="406.8" x2="600.6" y2="405.3" stroke="#bbb" stroke-width="0.5"/>
<text x="600.6" y="414.4" font-size="7.2" fill="#333" stroke="#333" stroke-width="0.16" font-weight="normal" text-anchor="middle">7.5</text>
<line x1="623.9" y1="406.8" x2="623.9" y2="405.3" stroke="#bbb" stroke-width="0.5"/>
<text x="623.9" y="414.4" font-size="7.2" fill="#333" stroke="#333" stroke-width="0.16" font-weight="normal" text-anchor="middle">7</text>
<line x1="651.2" y1="406.8" x2="651.2" y2="405.3" stroke="#bbb" stroke-width="0.5"/>
<text x="651.2" y="414.4" font-size="7.2" fill="#333" stroke="#333" stroke-width="0.16" font-weight="normal" text-anchor="middle">6.5</text>
<line x1="674.4" y1="406.8" x2="674.4" y2="405.3" stroke="#bbb" stroke-width="0.5"/>
<text x="674.4" y="414.4" font-size="7.2" fill="#333" stroke="#333" stroke-width="0.16" font-weight="normal" text-anchor="middle">6</text>
<line x1="701.2" y1="406.8" x2="701.2" y2="405.3" stroke="#bbb" stroke-width="0.5"/>
<text x="701.2" y="414.4" font-size="7.2" fill="#333" stroke="#333" stroke-width="0.16" font-weight="normal" text-anchor="middle">5.5</text>
<text x="598.8" y="431.3" font-size="10.3" fill="#222" textLength="44.6" lengthAdjust="spacingAndGlyphs">[δ<tspan font-size="6.4" dy="-3.4">1</tspan><tspan dy="3.4">H ppm]</tspan></text>
<rect x="717.4" y="308.9" width="8.3" height="97.1" fill="url(#cb)"/>
<text x="716.3" y="305.1" font-size="9.6" fill="#111" stroke="#111" stroke-width="0.2">R<tspan font-size="5.5" dy="-3.6">2</tspan></text>
<text x="727.0" y="310.1" font-size="7.5" fill="#1c1c1c" stroke="#1c1c1c" stroke-width="0.15">1</text>
<text x="726.6" y="319.7" font-size="7.5" fill="#1c1c1c" stroke="#1c1c1c" stroke-width="0.15">0.9</text>
<text x="726.6" y="329.4" font-size="7.5" fill="#1c1c1c" stroke="#1c1c1c" stroke-width="0.15">0.8</text>
<text x="726.6" y="339.0" font-size="7.5" fill="#1c1c1c" stroke="#1c1c1c" stroke-width="0.15">0.7</text>
<text x="726.6" y="348.7" font-size="7.5" fill="#1c1c1c" stroke="#1c1c1c" stroke-width="0.15">0.6</text>
<text x="726.6" y="358.3" font-size="7.5" fill="#1c1c1c" stroke="#1c1c1c" stroke-width="0.15">0.5</text>
<text x="726.6" y="367.9" font-size="7.5" fill="#1c1c1c" stroke="#1c1c1c" stroke-width="0.15">0.4</text>
<text x="726.6" y="377.6" font-size="7.5" fill="#1c1c1c" stroke="#1c1c1c" stroke-width="0.15">0.3</text>
<text x="726.6" y="387.2" font-size="7.5" fill="#1c1c1c" stroke="#1c1c1c" stroke-width="0.15">0.2</text>
<text x="726.6" y="396.9" font-size="7.5" fill="#1c1c1c" stroke="#1c1c1c" stroke-width="0.15">0.1</text>
<text x="726.6" y="406.5" font-size="7.5" fill="#1c1c1c" stroke="#1c1c1c" stroke-width="0.15">0</text>
</svg></body></html>
